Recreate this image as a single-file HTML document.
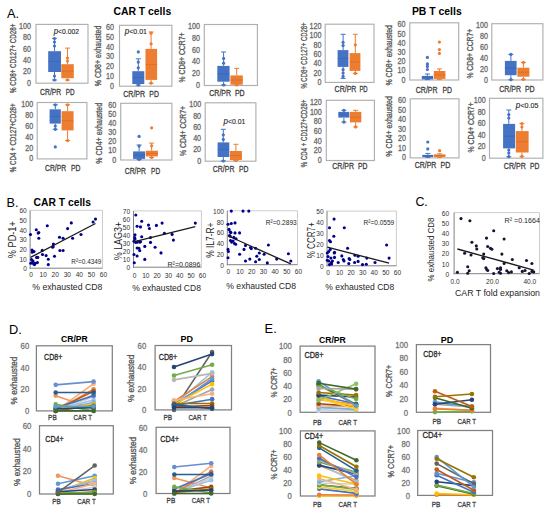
<!DOCTYPE html>
<html><head><meta charset="utf-8"><style>
html,body{margin:0;padding:0;background:#fff;width:550px;height:512px;overflow:hidden;position:relative}
</style></head><body>
<svg width="550" height="512" viewBox="0 0 550 512" style="position:absolute;left:0;top:0">
<g font-family='"Liberation Sans", sans-serif'>
<text x="7.00" y="18.20" font-size="12.8" fill="#000" text-anchor="start" font-weight="500">A.</text>
<text x="113.40" y="14.80" font-size="11.6" fill="#000" text-anchor="start" font-weight="bold" textLength="57.80" lengthAdjust="spacingAndGlyphs">CAR T cells</text>
<text x="411.90" y="14.70" font-size="11.6" fill="#000" text-anchor="start" font-weight="bold" textLength="49.80" lengthAdjust="spacingAndGlyphs">PB T cells</text>
<rect x="36.00" y="24.40" width="52.00" height="58.80" fill="none" stroke="#AFAFAF" stroke-width="1.15"/>
<text x="31.00" y="85.75" font-size="8.3" fill="#6A6A6A" text-anchor="end" stroke="#6A6A6A" stroke-width="0.3" textLength="3.97" lengthAdjust="spacingAndGlyphs">0</text>
<text x="31.00" y="74.41" font-size="8.3" fill="#6A6A6A" text-anchor="end" stroke="#6A6A6A" stroke-width="0.3" textLength="7.94" lengthAdjust="spacingAndGlyphs">20</text>
<text x="31.00" y="63.07" font-size="8.3" fill="#6A6A6A" text-anchor="end" stroke="#6A6A6A" stroke-width="0.3" textLength="7.94" lengthAdjust="spacingAndGlyphs">40</text>
<text x="31.00" y="51.73" font-size="8.3" fill="#6A6A6A" text-anchor="end" stroke="#6A6A6A" stroke-width="0.3" textLength="7.94" lengthAdjust="spacingAndGlyphs">60</text>
<text x="31.00" y="40.39" font-size="8.3" fill="#6A6A6A" text-anchor="end" stroke="#6A6A6A" stroke-width="0.3" textLength="7.94" lengthAdjust="spacingAndGlyphs">80</text>
<text x="31.00" y="29.05" font-size="8.3" fill="#6A6A6A" text-anchor="end" stroke="#6A6A6A" stroke-width="0.3" textLength="11.91" lengthAdjust="spacingAndGlyphs">100</text>
<text x="16.30" y="58.30" font-size="8.4" fill="#555555" text-anchor="middle" stroke="#555555" stroke-width="0.3" textLength="69.30" lengthAdjust="spacingAndGlyphs" transform="rotate(-90 16.30 58.30)">% CD8+ CD127+ CD28+</text>
<text x="40.10" y="94.50" font-size="9" fill="#404040" text-anchor="start" stroke="#404040" stroke-width="0.3" textLength="21.20" lengthAdjust="spacingAndGlyphs">CR/PR</text>
<text x="65.70" y="94.50" font-size="9" fill="#404040" text-anchor="start" stroke="#404040" stroke-width="0.3" textLength="8.80" lengthAdjust="spacingAndGlyphs">PD</text>
<line x1="54.50" y1="38.30" x2="54.50" y2="51.20" stroke="#4472C4" stroke-width="1"/>
<line x1="54.50" y1="72.00" x2="54.50" y2="80.00" stroke="#4472C4" stroke-width="1"/>
<line x1="52.00" y1="38.30" x2="57.00" y2="38.30" stroke="#4472C4" stroke-width="1"/>
<line x1="52.00" y1="80.00" x2="57.00" y2="80.00" stroke="#4472C4" stroke-width="1"/>
<rect x="48.20" y="51.20" width="12.80" height="20.80" fill="#4472C4" stroke="none" stroke-width="1"/>
<line x1="48.20" y1="61.60" x2="61.00" y2="61.60" stroke="#2F5597" stroke-width="0.6" opacity="0.6"/>
<circle cx="54.50" cy="38.50" r="1.6" fill="#4472C4"/>
<circle cx="54.50" cy="42.00" r="1.6" fill="#4472C4"/>
<circle cx="54.50" cy="46.00" r="1.6" fill="#4472C4"/>
<circle cx="54.50" cy="55.00" r="1.6" fill="#4472C4"/>
<circle cx="54.50" cy="60.00" r="1.6" fill="#4472C4"/>
<circle cx="54.50" cy="68.00" r="1.6" fill="#4472C4"/>
<circle cx="54.50" cy="76.00" r="1.6" fill="#4472C4"/>
<circle cx="54.50" cy="80.00" r="1.6" fill="#4472C4"/>
<line x1="67.50" y1="48.10" x2="67.50" y2="64.20" stroke="#ED7D31" stroke-width="1"/>
<line x1="67.50" y1="78.20" x2="67.50" y2="80.00" stroke="#ED7D31" stroke-width="1"/>
<line x1="65.00" y1="48.10" x2="70.00" y2="48.10" stroke="#ED7D31" stroke-width="1"/>
<line x1="65.00" y1="80.00" x2="70.00" y2="80.00" stroke="#ED7D31" stroke-width="1"/>
<rect x="61.30" y="64.20" width="12.50" height="14.00" fill="#ED7D31" stroke="none" stroke-width="1"/>
<line x1="61.30" y1="71.20" x2="73.80" y2="71.20" stroke="#C55A11" stroke-width="0.6" opacity="0.6"/>
<circle cx="67.50" cy="58.00" r="1.6" fill="#ED7D31"/>
<circle cx="67.50" cy="61.00" r="1.6" fill="#ED7D31"/>
<circle cx="67.50" cy="80.00" r="1.6" fill="#ED7D31"/>
<text x="53.70" y="33.80" font-size="7.0" fill="#262626" stroke="#262626" stroke-width="0.12" textLength="25.20" lengthAdjust="spacingAndGlyphs"><tspan font-style="italic" font-size="8.2">p</tspan><0.002</text>
<rect x="119.50" y="25.30" width="52.40" height="60.90" fill="none" stroke="#AFAFAF" stroke-width="1.15"/>
<text x="114.00" y="88.75" font-size="8.3" fill="#6A6A6A" text-anchor="end" stroke="#6A6A6A" stroke-width="0.3" textLength="3.97" lengthAdjust="spacingAndGlyphs">0</text>
<text x="114.00" y="78.95" font-size="8.3" fill="#6A6A6A" text-anchor="end" stroke="#6A6A6A" stroke-width="0.3" textLength="7.94" lengthAdjust="spacingAndGlyphs">10</text>
<text x="114.00" y="69.15" font-size="8.3" fill="#6A6A6A" text-anchor="end" stroke="#6A6A6A" stroke-width="0.3" textLength="7.94" lengthAdjust="spacingAndGlyphs">20</text>
<text x="114.00" y="59.35" font-size="8.3" fill="#6A6A6A" text-anchor="end" stroke="#6A6A6A" stroke-width="0.3" textLength="7.94" lengthAdjust="spacingAndGlyphs">30</text>
<text x="114.00" y="49.55" font-size="8.3" fill="#6A6A6A" text-anchor="end" stroke="#6A6A6A" stroke-width="0.3" textLength="7.94" lengthAdjust="spacingAndGlyphs">40</text>
<text x="114.00" y="39.75" font-size="8.3" fill="#6A6A6A" text-anchor="end" stroke="#6A6A6A" stroke-width="0.3" textLength="7.94" lengthAdjust="spacingAndGlyphs">50</text>
<text x="114.00" y="29.95" font-size="8.3" fill="#6A6A6A" text-anchor="end" stroke="#6A6A6A" stroke-width="0.3" textLength="7.94" lengthAdjust="spacingAndGlyphs">60</text>
<text x="101.20" y="55.90" font-size="8.4" fill="#555555" text-anchor="middle" stroke="#555555" stroke-width="0.3" textLength="60.70" lengthAdjust="spacingAndGlyphs" transform="rotate(-90 101.20 55.90)">% CD8+ exhausted</text>
<text x="123.30" y="96.50" font-size="9" fill="#404040" text-anchor="start" stroke="#404040" stroke-width="0.3" textLength="21.80" lengthAdjust="spacingAndGlyphs">CR/PR</text>
<text x="149.30" y="96.50" font-size="9" fill="#404040" text-anchor="start" stroke="#404040" stroke-width="0.3" textLength="9.60" lengthAdjust="spacingAndGlyphs">PD</text>
<line x1="138.30" y1="58.80" x2="138.30" y2="71.20" stroke="#4472C4" stroke-width="1"/>
<line x1="138.30" y1="84.00" x2="138.30" y2="85.00" stroke="#4472C4" stroke-width="1"/>
<line x1="135.80" y1="58.80" x2="140.80" y2="58.80" stroke="#4472C4" stroke-width="1"/>
<line x1="135.80" y1="85.00" x2="140.80" y2="85.00" stroke="#4472C4" stroke-width="1"/>
<rect x="132.30" y="71.20" width="12.00" height="12.80" fill="#4472C4" stroke="none" stroke-width="1"/>
<line x1="132.30" y1="77.60" x2="144.30" y2="77.60" stroke="#2F5597" stroke-width="0.6" opacity="0.6"/>
<circle cx="138.30" cy="51.90" r="1.6" fill="#4472C4"/>
<circle cx="138.30" cy="62.10" r="1.6" fill="#4472C4"/>
<circle cx="138.30" cy="67.80" r="1.6" fill="#4472C4"/>
<circle cx="138.30" cy="85.00" r="1.6" fill="#4472C4"/>
<line x1="151.10" y1="32.00" x2="151.10" y2="48.90" stroke="#ED7D31" stroke-width="1"/>
<line x1="151.10" y1="79.90" x2="151.10" y2="83.20" stroke="#ED7D31" stroke-width="1"/>
<line x1="148.60" y1="32.00" x2="153.60" y2="32.00" stroke="#ED7D31" stroke-width="1"/>
<line x1="148.60" y1="83.20" x2="153.60" y2="83.20" stroke="#ED7D31" stroke-width="1"/>
<rect x="145.50" y="48.90" width="11.60" height="31.00" fill="#ED7D31" stroke="none" stroke-width="1"/>
<line x1="145.50" y1="64.40" x2="157.10" y2="64.40" stroke="#C55A11" stroke-width="0.6" opacity="0.6"/>
<circle cx="151.10" cy="33.20" r="1.6" fill="#ED7D31"/>
<circle cx="151.10" cy="43.80" r="1.6" fill="#ED7D31"/>
<circle cx="151.10" cy="83.20" r="1.6" fill="#ED7D31"/>
<text x="124.80" y="34.40" font-size="7.0" fill="#262626" stroke="#262626" stroke-width="0.12" textLength="22.10" lengthAdjust="spacingAndGlyphs"><tspan font-style="italic" font-size="8.2">p</tspan><0.01</text>
<rect x="204.30" y="24.50" width="53.10" height="61.00" fill="none" stroke="#AFAFAF" stroke-width="1.15"/>
<text x="200.00" y="88.05" font-size="8.3" fill="#6A6A6A" text-anchor="end" stroke="#6A6A6A" stroke-width="0.3" textLength="3.97" lengthAdjust="spacingAndGlyphs">0</text>
<text x="200.00" y="76.27" font-size="8.3" fill="#6A6A6A" text-anchor="end" stroke="#6A6A6A" stroke-width="0.3" textLength="7.94" lengthAdjust="spacingAndGlyphs">20</text>
<text x="200.00" y="64.49" font-size="8.3" fill="#6A6A6A" text-anchor="end" stroke="#6A6A6A" stroke-width="0.3" textLength="7.94" lengthAdjust="spacingAndGlyphs">40</text>
<text x="200.00" y="52.71" font-size="8.3" fill="#6A6A6A" text-anchor="end" stroke="#6A6A6A" stroke-width="0.3" textLength="7.94" lengthAdjust="spacingAndGlyphs">60</text>
<text x="200.00" y="40.93" font-size="8.3" fill="#6A6A6A" text-anchor="end" stroke="#6A6A6A" stroke-width="0.3" textLength="7.94" lengthAdjust="spacingAndGlyphs">80</text>
<text x="200.00" y="29.15" font-size="8.3" fill="#6A6A6A" text-anchor="end" stroke="#6A6A6A" stroke-width="0.3" textLength="11.91" lengthAdjust="spacingAndGlyphs">100</text>
<text x="185.30" y="57.50" font-size="8.4" fill="#555555" text-anchor="middle" stroke="#555555" stroke-width="0.3" textLength="49.80" lengthAdjust="spacingAndGlyphs" transform="rotate(-90 185.30 57.50)">% CD8+  CCR7+</text>
<text x="209.30" y="95.80" font-size="9" fill="#404040" text-anchor="start" stroke="#404040" stroke-width="0.3" textLength="21.80" lengthAdjust="spacingAndGlyphs">CR/PR</text>
<text x="234.90" y="95.80" font-size="9" fill="#404040" text-anchor="start" stroke="#404040" stroke-width="0.3" textLength="9.80" lengthAdjust="spacingAndGlyphs">PD</text>
<line x1="223.60" y1="52.00" x2="223.60" y2="65.90" stroke="#4472C4" stroke-width="1"/>
<line x1="223.60" y1="81.70" x2="223.60" y2="85.00" stroke="#4472C4" stroke-width="1"/>
<line x1="221.10" y1="52.00" x2="226.10" y2="52.00" stroke="#4472C4" stroke-width="1"/>
<line x1="221.10" y1="85.00" x2="226.10" y2="85.00" stroke="#4472C4" stroke-width="1"/>
<rect x="217.30" y="65.90" width="12.30" height="15.80" fill="#4472C4" stroke="none" stroke-width="1"/>
<line x1="217.30" y1="73.80" x2="229.60" y2="73.80" stroke="#2F5597" stroke-width="0.6" opacity="0.6"/>
<circle cx="223.60" cy="58.40" r="1.6" fill="#4472C4"/>
<circle cx="223.60" cy="63.20" r="1.6" fill="#4472C4"/>
<circle cx="223.60" cy="85.00" r="1.6" fill="#4472C4"/>
<line x1="236.70" y1="68.40" x2="236.70" y2="75.40" stroke="#ED7D31" stroke-width="1"/>
<line x1="236.70" y1="84.70" x2="236.70" y2="85.00" stroke="#ED7D31" stroke-width="1"/>
<line x1="234.20" y1="68.40" x2="239.20" y2="68.40" stroke="#ED7D31" stroke-width="1"/>
<line x1="234.20" y1="85.00" x2="239.20" y2="85.00" stroke="#ED7D31" stroke-width="1"/>
<rect x="230.40" y="75.40" width="12.40" height="9.30" fill="#ED7D31" stroke="none" stroke-width="1"/>
<line x1="230.40" y1="80.05" x2="242.80" y2="80.05" stroke="#C55A11" stroke-width="0.6" opacity="0.6"/>
<circle cx="236.70" cy="85.00" r="1.6" fill="#ED7D31"/>
<rect x="37.20" y="102.50" width="49.70" height="56.40" fill="none" stroke="#AFAFAF" stroke-width="1.15"/>
<text x="33.20" y="161.45" font-size="8.3" fill="#6A6A6A" text-anchor="end" stroke="#6A6A6A" stroke-width="0.3" textLength="3.97" lengthAdjust="spacingAndGlyphs">0</text>
<text x="33.20" y="150.59" font-size="8.3" fill="#6A6A6A" text-anchor="end" stroke="#6A6A6A" stroke-width="0.3" textLength="7.94" lengthAdjust="spacingAndGlyphs">20</text>
<text x="33.20" y="139.73" font-size="8.3" fill="#6A6A6A" text-anchor="end" stroke="#6A6A6A" stroke-width="0.3" textLength="7.94" lengthAdjust="spacingAndGlyphs">40</text>
<text x="33.20" y="128.87" font-size="8.3" fill="#6A6A6A" text-anchor="end" stroke="#6A6A6A" stroke-width="0.3" textLength="7.94" lengthAdjust="spacingAndGlyphs">60</text>
<text x="33.20" y="118.01" font-size="8.3" fill="#6A6A6A" text-anchor="end" stroke="#6A6A6A" stroke-width="0.3" textLength="7.94" lengthAdjust="spacingAndGlyphs">80</text>
<text x="33.20" y="107.15" font-size="8.3" fill="#6A6A6A" text-anchor="end" stroke="#6A6A6A" stroke-width="0.3" textLength="11.91" lengthAdjust="spacingAndGlyphs">100</text>
<text x="16.00" y="137.80" font-size="8.4" fill="#555555" text-anchor="middle" stroke="#555555" stroke-width="0.3" textLength="68.90" lengthAdjust="spacingAndGlyphs" transform="rotate(-90 16.00 137.80)">% CD4 + CD127+CD28+</text>
<text x="45.00" y="170.80" font-size="9" fill="#404040" text-anchor="start" stroke="#404040" stroke-width="0.3" textLength="21.10" lengthAdjust="spacingAndGlyphs">CR/PR</text>
<text x="70.90" y="170.80" font-size="9" fill="#404040" text-anchor="start" stroke="#404040" stroke-width="0.3" textLength="9.50" lengthAdjust="spacingAndGlyphs">PD</text>
<line x1="55.30" y1="104.80" x2="55.30" y2="109.30" stroke="#4472C4" stroke-width="1"/>
<line x1="55.30" y1="123.60" x2="55.30" y2="129.30" stroke="#4472C4" stroke-width="1"/>
<line x1="52.80" y1="104.80" x2="57.80" y2="104.80" stroke="#4472C4" stroke-width="1"/>
<line x1="52.80" y1="129.30" x2="57.80" y2="129.30" stroke="#4472C4" stroke-width="1"/>
<rect x="49.60" y="109.30" width="11.20" height="14.30" fill="#4472C4" stroke="none" stroke-width="1"/>
<line x1="49.60" y1="116.45" x2="60.80" y2="116.45" stroke="#2F5597" stroke-width="0.6" opacity="0.6"/>
<circle cx="55.30" cy="104.80" r="1.6" fill="#4472C4"/>
<circle cx="55.30" cy="126.00" r="1.6" fill="#4472C4"/>
<circle cx="55.30" cy="129.30" r="1.6" fill="#4472C4"/>
<circle cx="55.30" cy="146.90" r="1.6" fill="#4472C4"/>
<line x1="67.60" y1="104.80" x2="67.60" y2="111.20" stroke="#ED7D31" stroke-width="1"/>
<line x1="67.60" y1="130.40" x2="67.60" y2="140.60" stroke="#ED7D31" stroke-width="1"/>
<line x1="65.10" y1="104.80" x2="70.10" y2="104.80" stroke="#ED7D31" stroke-width="1"/>
<line x1="65.10" y1="140.60" x2="70.10" y2="140.60" stroke="#ED7D31" stroke-width="1"/>
<rect x="61.60" y="111.20" width="12.00" height="19.20" fill="#ED7D31" stroke="none" stroke-width="1"/>
<line x1="61.60" y1="120.80" x2="73.60" y2="120.80" stroke="#C55A11" stroke-width="0.6" opacity="0.6"/>
<circle cx="67.60" cy="104.80" r="1.6" fill="#ED7D31"/>
<circle cx="67.60" cy="140.60" r="1.6" fill="#ED7D31"/>
<rect x="120.70" y="103.30" width="51.20" height="56.70" fill="none" stroke="#AFAFAF" stroke-width="1.15"/>
<text x="116.30" y="162.55" font-size="8.3" fill="#6A6A6A" text-anchor="end" stroke="#6A6A6A" stroke-width="0.3" textLength="3.97" lengthAdjust="spacingAndGlyphs">0</text>
<text x="116.30" y="153.45" font-size="8.3" fill="#6A6A6A" text-anchor="end" stroke="#6A6A6A" stroke-width="0.3" textLength="7.94" lengthAdjust="spacingAndGlyphs">10</text>
<text x="116.30" y="144.35" font-size="8.3" fill="#6A6A6A" text-anchor="end" stroke="#6A6A6A" stroke-width="0.3" textLength="7.94" lengthAdjust="spacingAndGlyphs">20</text>
<text x="116.30" y="135.25" font-size="8.3" fill="#6A6A6A" text-anchor="end" stroke="#6A6A6A" stroke-width="0.3" textLength="7.94" lengthAdjust="spacingAndGlyphs">30</text>
<text x="116.30" y="126.15" font-size="8.3" fill="#6A6A6A" text-anchor="end" stroke="#6A6A6A" stroke-width="0.3" textLength="7.94" lengthAdjust="spacingAndGlyphs">40</text>
<text x="116.30" y="117.05" font-size="8.3" fill="#6A6A6A" text-anchor="end" stroke="#6A6A6A" stroke-width="0.3" textLength="7.94" lengthAdjust="spacingAndGlyphs">50</text>
<text x="116.30" y="107.95" font-size="8.3" fill="#6A6A6A" text-anchor="end" stroke="#6A6A6A" stroke-width="0.3" textLength="7.94" lengthAdjust="spacingAndGlyphs">60</text>
<text x="101.80" y="133.30" font-size="8.4" fill="#555555" text-anchor="middle" stroke="#555555" stroke-width="0.3" textLength="60.80" lengthAdjust="spacingAndGlyphs" transform="rotate(-90 101.80 133.30)">% CD4+ exhausted</text>
<text x="124.80" y="173.80" font-size="9" fill="#404040" text-anchor="start" stroke="#404040" stroke-width="0.3" textLength="21.00" lengthAdjust="spacingAndGlyphs">CR/PR</text>
<text x="151.10" y="173.80" font-size="9" fill="#404040" text-anchor="start" stroke="#404040" stroke-width="0.3" textLength="9.00" lengthAdjust="spacingAndGlyphs">PD</text>
<line x1="139.10" y1="145.00" x2="139.10" y2="151.40" stroke="#4472C4" stroke-width="1"/>
<line x1="139.10" y1="158.90" x2="139.10" y2="159.50" stroke="#4472C4" stroke-width="1"/>
<line x1="136.60" y1="145.00" x2="141.60" y2="145.00" stroke="#4472C4" stroke-width="1"/>
<line x1="136.60" y1="159.50" x2="141.60" y2="159.50" stroke="#4472C4" stroke-width="1"/>
<rect x="133.10" y="151.40" width="12.00" height="7.50" fill="#4472C4" stroke="none" stroke-width="1"/>
<line x1="133.10" y1="155.15" x2="145.10" y2="155.15" stroke="#2F5597" stroke-width="0.6" opacity="0.6"/>
<circle cx="139.10" cy="136.40" r="1.6" fill="#4472C4"/>
<circle cx="139.10" cy="146.10" r="1.6" fill="#4472C4"/>
<circle cx="139.10" cy="159.50" r="1.6" fill="#4472C4"/>
<line x1="151.60" y1="143.10" x2="151.60" y2="150.70" stroke="#ED7D31" stroke-width="1"/>
<line x1="151.60" y1="156.40" x2="151.60" y2="157.50" stroke="#ED7D31" stroke-width="1"/>
<line x1="149.10" y1="143.10" x2="154.10" y2="143.10" stroke="#ED7D31" stroke-width="1"/>
<line x1="149.10" y1="157.50" x2="154.10" y2="157.50" stroke="#ED7D31" stroke-width="1"/>
<rect x="145.80" y="150.70" width="12.10" height="5.70" fill="#ED7D31" stroke="none" stroke-width="1"/>
<line x1="145.80" y1="153.55" x2="157.90" y2="153.55" stroke="#C55A11" stroke-width="0.6" opacity="0.6"/>
<circle cx="151.60" cy="127.80" r="1.6" fill="#ED7D31"/>
<circle cx="151.60" cy="145.80" r="1.6" fill="#ED7D31"/>
<circle cx="151.60" cy="157.50" r="1.6" fill="#ED7D31"/>
<rect x="205.20" y="102.80" width="50.70" height="58.40" fill="none" stroke="#AFAFAF" stroke-width="1.15"/>
<text x="201.10" y="163.75" font-size="8.3" fill="#6A6A6A" text-anchor="end" stroke="#6A6A6A" stroke-width="0.3" textLength="3.97" lengthAdjust="spacingAndGlyphs">0</text>
<text x="201.10" y="152.49" font-size="8.3" fill="#6A6A6A" text-anchor="end" stroke="#6A6A6A" stroke-width="0.3" textLength="7.94" lengthAdjust="spacingAndGlyphs">20</text>
<text x="201.10" y="141.23" font-size="8.3" fill="#6A6A6A" text-anchor="end" stroke="#6A6A6A" stroke-width="0.3" textLength="7.94" lengthAdjust="spacingAndGlyphs">40</text>
<text x="201.10" y="129.97" font-size="8.3" fill="#6A6A6A" text-anchor="end" stroke="#6A6A6A" stroke-width="0.3" textLength="7.94" lengthAdjust="spacingAndGlyphs">60</text>
<text x="201.10" y="118.71" font-size="8.3" fill="#6A6A6A" text-anchor="end" stroke="#6A6A6A" stroke-width="0.3" textLength="7.94" lengthAdjust="spacingAndGlyphs">80</text>
<text x="201.10" y="107.45" font-size="8.3" fill="#6A6A6A" text-anchor="end" stroke="#6A6A6A" stroke-width="0.3" textLength="11.91" lengthAdjust="spacingAndGlyphs">100</text>
<text x="186.00" y="131.00" font-size="8.4" fill="#555555" text-anchor="middle" stroke="#555555" stroke-width="0.3" textLength="49.90" lengthAdjust="spacingAndGlyphs" transform="rotate(-90 186.00 131.00)">% CD4+  CCR7+</text>
<text x="212.80" y="172.30" font-size="9" fill="#404040" text-anchor="start" stroke="#404040" stroke-width="0.3" textLength="21.60" lengthAdjust="spacingAndGlyphs">CR/PR</text>
<text x="238.90" y="172.30" font-size="9" fill="#404040" text-anchor="start" stroke="#404040" stroke-width="0.3" textLength="9.50" lengthAdjust="spacingAndGlyphs">PD</text>
<line x1="223.30" y1="129.30" x2="223.30" y2="142.40" stroke="#4472C4" stroke-width="1"/>
<line x1="223.30" y1="157.00" x2="223.30" y2="161.00" stroke="#4472C4" stroke-width="1"/>
<line x1="220.80" y1="129.30" x2="225.80" y2="129.30" stroke="#4472C4" stroke-width="1"/>
<line x1="220.80" y1="161.00" x2="225.80" y2="161.00" stroke="#4472C4" stroke-width="1"/>
<rect x="217.60" y="142.40" width="11.70" height="14.60" fill="#4472C4" stroke="none" stroke-width="1"/>
<line x1="217.60" y1="149.70" x2="229.30" y2="149.70" stroke="#2F5597" stroke-width="0.6" opacity="0.6"/>
<circle cx="223.30" cy="134.90" r="1.6" fill="#4472C4"/>
<circle cx="223.30" cy="139.40" r="1.6" fill="#4472C4"/>
<circle cx="223.30" cy="161.00" r="1.6" fill="#4472C4"/>
<line x1="235.90" y1="144.30" x2="235.90" y2="151.00" stroke="#ED7D31" stroke-width="1"/>
<line x1="235.90" y1="160.00" x2="235.90" y2="160.50" stroke="#ED7D31" stroke-width="1"/>
<line x1="233.40" y1="144.30" x2="238.40" y2="144.30" stroke="#ED7D31" stroke-width="1"/>
<line x1="233.40" y1="160.50" x2="238.40" y2="160.50" stroke="#ED7D31" stroke-width="1"/>
<rect x="229.90" y="151.00" width="12.00" height="9.00" fill="#ED7D31" stroke="none" stroke-width="1"/>
<line x1="229.90" y1="155.50" x2="241.90" y2="155.50" stroke="#C55A11" stroke-width="0.6" opacity="0.6"/>
<circle cx="235.90" cy="160.50" r="1.6" fill="#ED7D31"/>
<text x="223.60" y="124.20" font-size="7.0" fill="#262626" stroke="#262626" stroke-width="0.12" textLength="21.80" lengthAdjust="spacingAndGlyphs"><tspan font-style="italic" font-size="8.2">p</tspan><0.01</text>
<rect x="325.20" y="24.20" width="48.80" height="58.20" fill="none" stroke="#AFAFAF" stroke-width="1.15"/>
<text x="321.50" y="84.95" font-size="8.3" fill="#6A6A6A" text-anchor="end" stroke="#6A6A6A" stroke-width="0.3" textLength="3.97" lengthAdjust="spacingAndGlyphs">0</text>
<text x="321.50" y="75.60" font-size="8.3" fill="#6A6A6A" text-anchor="end" stroke="#6A6A6A" stroke-width="0.3" textLength="7.94" lengthAdjust="spacingAndGlyphs">20</text>
<text x="321.50" y="66.25" font-size="8.3" fill="#6A6A6A" text-anchor="end" stroke="#6A6A6A" stroke-width="0.3" textLength="7.94" lengthAdjust="spacingAndGlyphs">40</text>
<text x="321.50" y="56.90" font-size="8.3" fill="#6A6A6A" text-anchor="end" stroke="#6A6A6A" stroke-width="0.3" textLength="7.94" lengthAdjust="spacingAndGlyphs">60</text>
<text x="321.50" y="47.55" font-size="8.3" fill="#6A6A6A" text-anchor="end" stroke="#6A6A6A" stroke-width="0.3" textLength="7.94" lengthAdjust="spacingAndGlyphs">80</text>
<text x="321.50" y="38.20" font-size="8.3" fill="#6A6A6A" text-anchor="end" stroke="#6A6A6A" stroke-width="0.3" textLength="11.91" lengthAdjust="spacingAndGlyphs">100</text>
<text x="321.50" y="28.85" font-size="8.3" fill="#6A6A6A" text-anchor="end" stroke="#6A6A6A" stroke-width="0.3" textLength="11.91" lengthAdjust="spacingAndGlyphs">120</text>
<text x="306.90" y="55.50" font-size="8.4" fill="#555555" text-anchor="middle" stroke="#555555" stroke-width="0.3" textLength="66.10" lengthAdjust="spacingAndGlyphs" transform="rotate(-90 306.90 55.50)">% CD8+ CD127+ CD28+</text>
<text x="334.60" y="92.30" font-size="9" fill="#404040" text-anchor="start" stroke="#404040" stroke-width="0.3" textLength="21.80" lengthAdjust="spacingAndGlyphs">CR/PR</text>
<text x="359.40" y="92.30" font-size="9" fill="#404040" text-anchor="start" stroke="#404040" stroke-width="0.3" textLength="8.30" lengthAdjust="spacingAndGlyphs">PD</text>
<line x1="343.10" y1="34.30" x2="343.10" y2="50.10" stroke="#4472C4" stroke-width="1"/>
<line x1="343.10" y1="66.90" x2="343.10" y2="78.40" stroke="#4472C4" stroke-width="1"/>
<line x1="340.60" y1="34.30" x2="345.60" y2="34.30" stroke="#4472C4" stroke-width="1"/>
<line x1="340.60" y1="78.40" x2="345.60" y2="78.40" stroke="#4472C4" stroke-width="1"/>
<rect x="337.60" y="50.10" width="10.80" height="16.80" fill="#4472C4" stroke="none" stroke-width="1"/>
<line x1="337.60" y1="58.50" x2="348.40" y2="58.50" stroke="#2F5597" stroke-width="0.6" opacity="0.6"/>
<circle cx="343.10" cy="42.30" r="1.6" fill="#4472C4"/>
<circle cx="343.10" cy="45.60" r="1.6" fill="#4472C4"/>
<circle cx="343.10" cy="69.70" r="1.6" fill="#4472C4"/>
<circle cx="343.10" cy="73.00" r="1.6" fill="#4472C4"/>
<circle cx="343.10" cy="76.40" r="1.6" fill="#4472C4"/>
<line x1="355.30" y1="34.30" x2="355.30" y2="53.10" stroke="#ED7D31" stroke-width="1"/>
<line x1="355.30" y1="70.90" x2="355.30" y2="73.40" stroke="#ED7D31" stroke-width="1"/>
<line x1="352.80" y1="34.30" x2="357.80" y2="34.30" stroke="#ED7D31" stroke-width="1"/>
<line x1="352.80" y1="73.40" x2="357.80" y2="73.40" stroke="#ED7D31" stroke-width="1"/>
<rect x="349.60" y="53.10" width="10.80" height="17.80" fill="#ED7D31" stroke="none" stroke-width="1"/>
<line x1="349.60" y1="62.00" x2="360.40" y2="62.00" stroke="#C55A11" stroke-width="0.6" opacity="0.6"/>
<circle cx="355.30" cy="44.80" r="1.6" fill="#ED7D31"/>
<circle cx="355.30" cy="73.40" r="1.6" fill="#ED7D31"/>
<rect x="409.80" y="22.80" width="48.90" height="57.20" fill="none" stroke="#AFAFAF" stroke-width="1.15"/>
<text x="405.50" y="82.55" font-size="8.3" fill="#6A6A6A" text-anchor="end" stroke="#6A6A6A" stroke-width="0.3" textLength="3.97" lengthAdjust="spacingAndGlyphs">0</text>
<text x="405.50" y="73.37" font-size="8.3" fill="#6A6A6A" text-anchor="end" stroke="#6A6A6A" stroke-width="0.3" textLength="7.94" lengthAdjust="spacingAndGlyphs">10</text>
<text x="405.50" y="64.18" font-size="8.3" fill="#6A6A6A" text-anchor="end" stroke="#6A6A6A" stroke-width="0.3" textLength="7.94" lengthAdjust="spacingAndGlyphs">20</text>
<text x="405.50" y="55.00" font-size="8.3" fill="#6A6A6A" text-anchor="end" stroke="#6A6A6A" stroke-width="0.3" textLength="7.94" lengthAdjust="spacingAndGlyphs">30</text>
<text x="405.50" y="45.82" font-size="8.3" fill="#6A6A6A" text-anchor="end" stroke="#6A6A6A" stroke-width="0.3" textLength="7.94" lengthAdjust="spacingAndGlyphs">40</text>
<text x="405.50" y="36.63" font-size="8.3" fill="#6A6A6A" text-anchor="end" stroke="#6A6A6A" stroke-width="0.3" textLength="7.94" lengthAdjust="spacingAndGlyphs">50</text>
<text x="405.50" y="27.45" font-size="8.3" fill="#6A6A6A" text-anchor="end" stroke="#6A6A6A" stroke-width="0.3" textLength="7.94" lengthAdjust="spacingAndGlyphs">60</text>
<text x="391.90" y="55.30" font-size="8.4" fill="#555555" text-anchor="middle" stroke="#555555" stroke-width="0.3" textLength="60.60" lengthAdjust="spacingAndGlyphs" transform="rotate(-90 391.90 55.30)">% CD8+ exhausted</text>
<text x="415.80" y="92.80" font-size="9" fill="#404040" text-anchor="start" stroke="#404040" stroke-width="0.3" textLength="21.80" lengthAdjust="spacingAndGlyphs">CR/PR</text>
<text x="442.40" y="92.80" font-size="9" fill="#404040" text-anchor="start" stroke="#404040" stroke-width="0.3" textLength="9.50" lengthAdjust="spacingAndGlyphs">PD</text>
<line x1="427.40" y1="74.00" x2="427.40" y2="75.90" stroke="#4472C4" stroke-width="1"/>
<line x1="427.40" y1="79.40" x2="427.40" y2="79.60" stroke="#4472C4" stroke-width="1"/>
<line x1="424.90" y1="74.00" x2="429.90" y2="74.00" stroke="#4472C4" stroke-width="1"/>
<line x1="424.90" y1="79.60" x2="429.90" y2="79.60" stroke="#4472C4" stroke-width="1"/>
<rect x="421.80" y="75.90" width="11.30" height="3.50" fill="#4472C4" stroke="none" stroke-width="1"/>
<line x1="421.80" y1="77.65" x2="433.10" y2="77.65" stroke="#2F5597" stroke-width="0.6" opacity="0.6"/>
<circle cx="427.40" cy="57.40" r="1.6" fill="#4472C4"/>
<circle cx="427.40" cy="63.90" r="1.6" fill="#4472C4"/>
<circle cx="427.40" cy="66.40" r="1.6" fill="#4472C4"/>
<circle cx="427.40" cy="69.50" r="1.6" fill="#4472C4"/>
<line x1="439.40" y1="68.90" x2="439.40" y2="71.00" stroke="#ED7D31" stroke-width="1"/>
<line x1="439.40" y1="78.90" x2="439.40" y2="79.60" stroke="#ED7D31" stroke-width="1"/>
<line x1="436.90" y1="68.90" x2="441.90" y2="68.90" stroke="#ED7D31" stroke-width="1"/>
<line x1="436.90" y1="79.60" x2="441.90" y2="79.60" stroke="#ED7D31" stroke-width="1"/>
<rect x="433.80" y="71.00" width="11.60" height="7.90" fill="#ED7D31" stroke="none" stroke-width="1"/>
<line x1="433.80" y1="74.95" x2="445.40" y2="74.95" stroke="#C55A11" stroke-width="0.6" opacity="0.6"/>
<circle cx="439.40" cy="42.10" r="1.6" fill="#ED7D31"/>
<circle cx="439.40" cy="49.60" r="1.6" fill="#ED7D31"/>
<circle cx="439.40" cy="53.40" r="1.6" fill="#ED7D31"/>
<rect x="491.80" y="23.70" width="51.10" height="56.30" fill="none" stroke="#AFAFAF" stroke-width="1.15"/>
<text x="488.00" y="82.55" font-size="8.3" fill="#6A6A6A" text-anchor="end" stroke="#6A6A6A" stroke-width="0.3" textLength="3.97" lengthAdjust="spacingAndGlyphs">0</text>
<text x="488.00" y="71.71" font-size="8.3" fill="#6A6A6A" text-anchor="end" stroke="#6A6A6A" stroke-width="0.3" textLength="7.94" lengthAdjust="spacingAndGlyphs">20</text>
<text x="488.00" y="60.87" font-size="8.3" fill="#6A6A6A" text-anchor="end" stroke="#6A6A6A" stroke-width="0.3" textLength="7.94" lengthAdjust="spacingAndGlyphs">40</text>
<text x="488.00" y="50.03" font-size="8.3" fill="#6A6A6A" text-anchor="end" stroke="#6A6A6A" stroke-width="0.3" textLength="7.94" lengthAdjust="spacingAndGlyphs">60</text>
<text x="488.00" y="39.19" font-size="8.3" fill="#6A6A6A" text-anchor="end" stroke="#6A6A6A" stroke-width="0.3" textLength="7.94" lengthAdjust="spacingAndGlyphs">80</text>
<text x="488.00" y="28.35" font-size="8.3" fill="#6A6A6A" text-anchor="end" stroke="#6A6A6A" stroke-width="0.3" textLength="11.91" lengthAdjust="spacingAndGlyphs">100</text>
<text x="473.10" y="53.70" font-size="8.4" fill="#555555" text-anchor="middle" stroke="#555555" stroke-width="0.3" textLength="49.70" lengthAdjust="spacingAndGlyphs" transform="rotate(-90 473.10 53.70)">% CD8+  CCR7+</text>
<text x="499.30" y="91.80" font-size="9" fill="#404040" text-anchor="start" stroke="#404040" stroke-width="0.3" textLength="21.80" lengthAdjust="spacingAndGlyphs">CR/PR</text>
<text x="524.90" y="91.80" font-size="9" fill="#404040" text-anchor="start" stroke="#404040" stroke-width="0.3" textLength="9.80" lengthAdjust="spacingAndGlyphs">PD</text>
<line x1="510.90" y1="54.40" x2="510.90" y2="60.90" stroke="#4472C4" stroke-width="1"/>
<line x1="510.90" y1="75.20" x2="510.90" y2="79.70" stroke="#4472C4" stroke-width="1"/>
<line x1="508.40" y1="54.40" x2="513.40" y2="54.40" stroke="#4472C4" stroke-width="1"/>
<line x1="508.40" y1="79.70" x2="513.40" y2="79.70" stroke="#4472C4" stroke-width="1"/>
<rect x="504.90" y="60.90" width="11.70" height="14.30" fill="#4472C4" stroke="none" stroke-width="1"/>
<line x1="504.90" y1="68.05" x2="516.60" y2="68.05" stroke="#2F5597" stroke-width="0.6" opacity="0.6"/>
<circle cx="510.90" cy="54.40" r="1.6" fill="#4472C4"/>
<circle cx="510.90" cy="79.70" r="1.6" fill="#4472C4"/>
<line x1="523.40" y1="62.40" x2="523.40" y2="67.70" stroke="#ED7D31" stroke-width="1"/>
<line x1="523.40" y1="76.70" x2="523.40" y2="79.40" stroke="#ED7D31" stroke-width="1"/>
<line x1="520.90" y1="62.40" x2="525.90" y2="62.40" stroke="#ED7D31" stroke-width="1"/>
<line x1="520.90" y1="79.40" x2="525.90" y2="79.40" stroke="#ED7D31" stroke-width="1"/>
<rect x="517.40" y="67.70" width="12.00" height="9.00" fill="#ED7D31" stroke="none" stroke-width="1"/>
<line x1="517.40" y1="72.20" x2="529.40" y2="72.20" stroke="#C55A11" stroke-width="0.6" opacity="0.6"/>
<circle cx="523.40" cy="62.40" r="1.6" fill="#ED7D31"/>
<circle cx="523.40" cy="79.40" r="1.6" fill="#ED7D31"/>
<rect x="326.30" y="100.30" width="48.10" height="60.20" fill="none" stroke="#AFAFAF" stroke-width="1.15"/>
<text x="321.80" y="163.05" font-size="8.3" fill="#6A6A6A" text-anchor="end" stroke="#6A6A6A" stroke-width="0.3" textLength="3.97" lengthAdjust="spacingAndGlyphs">0</text>
<text x="321.80" y="153.37" font-size="8.3" fill="#6A6A6A" text-anchor="end" stroke="#6A6A6A" stroke-width="0.3" textLength="7.94" lengthAdjust="spacingAndGlyphs">20</text>
<text x="321.80" y="143.68" font-size="8.3" fill="#6A6A6A" text-anchor="end" stroke="#6A6A6A" stroke-width="0.3" textLength="7.94" lengthAdjust="spacingAndGlyphs">40</text>
<text x="321.80" y="134.00" font-size="8.3" fill="#6A6A6A" text-anchor="end" stroke="#6A6A6A" stroke-width="0.3" textLength="7.94" lengthAdjust="spacingAndGlyphs">60</text>
<text x="321.80" y="124.32" font-size="8.3" fill="#6A6A6A" text-anchor="end" stroke="#6A6A6A" stroke-width="0.3" textLength="7.94" lengthAdjust="spacingAndGlyphs">80</text>
<text x="321.80" y="114.63" font-size="8.3" fill="#6A6A6A" text-anchor="end" stroke="#6A6A6A" stroke-width="0.3" textLength="11.91" lengthAdjust="spacingAndGlyphs">100</text>
<text x="321.80" y="104.95" font-size="8.3" fill="#6A6A6A" text-anchor="end" stroke="#6A6A6A" stroke-width="0.3" textLength="11.91" lengthAdjust="spacingAndGlyphs">120</text>
<text x="307.10" y="133.30" font-size="8.4" fill="#555555" text-anchor="middle" stroke="#555555" stroke-width="0.3" textLength="67.70" lengthAdjust="spacingAndGlyphs" transform="rotate(-90 307.10 133.30)">% CD4 + CD127+CD28+</text>
<text x="332.30" y="168.80" font-size="9" fill="#404040" text-anchor="start" stroke="#404040" stroke-width="0.3" textLength="21.80" lengthAdjust="spacingAndGlyphs">CR/PR</text>
<text x="357.90" y="168.80" font-size="9" fill="#404040" text-anchor="start" stroke="#404040" stroke-width="0.3" textLength="9.50" lengthAdjust="spacingAndGlyphs">PD</text>
<line x1="343.90" y1="110.30" x2="343.90" y2="111.90" stroke="#4472C4" stroke-width="1"/>
<line x1="343.90" y1="117.60" x2="343.90" y2="122.10" stroke="#4472C4" stroke-width="1"/>
<line x1="341.40" y1="110.30" x2="346.40" y2="110.30" stroke="#4472C4" stroke-width="1"/>
<line x1="341.40" y1="122.10" x2="346.40" y2="122.10" stroke="#4472C4" stroke-width="1"/>
<rect x="338.30" y="111.90" width="11.00" height="5.70" fill="#4472C4" stroke="none" stroke-width="1"/>
<line x1="338.30" y1="114.75" x2="349.30" y2="114.75" stroke="#2F5597" stroke-width="0.6" opacity="0.6"/>
<circle cx="343.90" cy="110.30" r="1.6" fill="#4472C4"/>
<circle cx="343.90" cy="122.10" r="1.6" fill="#4472C4"/>
<line x1="355.60" y1="110.30" x2="355.60" y2="111.90" stroke="#ED7D31" stroke-width="1"/>
<line x1="355.60" y1="122.40" x2="355.60" y2="126.90" stroke="#ED7D31" stroke-width="1"/>
<line x1="353.10" y1="110.30" x2="358.10" y2="110.30" stroke="#ED7D31" stroke-width="1"/>
<line x1="353.10" y1="126.90" x2="358.10" y2="126.90" stroke="#ED7D31" stroke-width="1"/>
<rect x="349.90" y="111.90" width="11.40" height="10.50" fill="#ED7D31" stroke="none" stroke-width="1"/>
<line x1="349.90" y1="117.15" x2="361.30" y2="117.15" stroke="#C55A11" stroke-width="0.6" opacity="0.6"/>
<circle cx="355.60" cy="126.90" r="1.6" fill="#ED7D31"/>
<rect x="410.20" y="98.80" width="48.80" height="59.10" fill="none" stroke="#AFAFAF" stroke-width="1.15"/>
<text x="406.00" y="160.45" font-size="8.3" fill="#6A6A6A" text-anchor="end" stroke="#6A6A6A" stroke-width="0.3" textLength="3.97" lengthAdjust="spacingAndGlyphs">0</text>
<text x="406.00" y="150.95" font-size="8.3" fill="#6A6A6A" text-anchor="end" stroke="#6A6A6A" stroke-width="0.3" textLength="7.94" lengthAdjust="spacingAndGlyphs">10</text>
<text x="406.00" y="141.45" font-size="8.3" fill="#6A6A6A" text-anchor="end" stroke="#6A6A6A" stroke-width="0.3" textLength="7.94" lengthAdjust="spacingAndGlyphs">20</text>
<text x="406.00" y="131.95" font-size="8.3" fill="#6A6A6A" text-anchor="end" stroke="#6A6A6A" stroke-width="0.3" textLength="7.94" lengthAdjust="spacingAndGlyphs">30</text>
<text x="406.00" y="122.45" font-size="8.3" fill="#6A6A6A" text-anchor="end" stroke="#6A6A6A" stroke-width="0.3" textLength="7.94" lengthAdjust="spacingAndGlyphs">40</text>
<text x="406.00" y="112.95" font-size="8.3" fill="#6A6A6A" text-anchor="end" stroke="#6A6A6A" stroke-width="0.3" textLength="7.94" lengthAdjust="spacingAndGlyphs">50</text>
<text x="406.00" y="103.45" font-size="8.3" fill="#6A6A6A" text-anchor="end" stroke="#6A6A6A" stroke-width="0.3" textLength="7.94" lengthAdjust="spacingAndGlyphs">60</text>
<text x="391.90" y="126.40" font-size="8.4" fill="#555555" text-anchor="middle" stroke="#555555" stroke-width="0.3" textLength="60.50" lengthAdjust="spacingAndGlyphs" transform="rotate(-90 391.90 126.40)">% CD4+ exhausted</text>
<text x="414.70" y="167.80" font-size="9" fill="#404040" text-anchor="start" stroke="#404040" stroke-width="0.3" textLength="21.70" lengthAdjust="spacingAndGlyphs">CR/PR</text>
<text x="440.60" y="167.80" font-size="9" fill="#404040" text-anchor="start" stroke="#404040" stroke-width="0.3" textLength="9.80" lengthAdjust="spacingAndGlyphs">PD</text>
<line x1="427.80" y1="153.40" x2="427.80" y2="154.90" stroke="#4472C4" stroke-width="1"/>
<line x1="427.80" y1="157.00" x2="427.80" y2="157.40" stroke="#4472C4" stroke-width="1"/>
<line x1="425.30" y1="153.40" x2="430.30" y2="153.40" stroke="#4472C4" stroke-width="1"/>
<line x1="425.30" y1="157.40" x2="430.30" y2="157.40" stroke="#4472C4" stroke-width="1"/>
<rect x="422.30" y="154.90" width="10.80" height="2.10" fill="#4472C4" stroke="none" stroke-width="1"/>
<line x1="422.30" y1="155.95" x2="433.10" y2="155.95" stroke="#2F5597" stroke-width="0.6" opacity="0.6"/>
<circle cx="427.80" cy="142.00" r="1.6" fill="#4472C4"/>
<circle cx="427.80" cy="148.90" r="1.6" fill="#4472C4"/>
<line x1="439.60" y1="153.80" x2="439.60" y2="154.40" stroke="#ED7D31" stroke-width="1"/>
<line x1="439.60" y1="157.00" x2="439.60" y2="157.40" stroke="#ED7D31" stroke-width="1"/>
<line x1="437.10" y1="153.80" x2="442.10" y2="153.80" stroke="#ED7D31" stroke-width="1"/>
<line x1="437.10" y1="157.40" x2="442.10" y2="157.40" stroke="#ED7D31" stroke-width="1"/>
<rect x="433.80" y="154.40" width="11.60" height="2.60" fill="#ED7D31" stroke="none" stroke-width="1"/>
<line x1="433.80" y1="155.70" x2="445.40" y2="155.70" stroke="#C55A11" stroke-width="0.6" opacity="0.6"/>
<circle cx="439.60" cy="150.70" r="1.6" fill="#ED7D31"/>
<rect x="489.50" y="98.30" width="53.40" height="59.90" fill="none" stroke="#AFAFAF" stroke-width="1.15"/>
<text x="485.60" y="160.75" font-size="8.3" fill="#6A6A6A" text-anchor="end" stroke="#6A6A6A" stroke-width="0.3" textLength="3.97" lengthAdjust="spacingAndGlyphs">0</text>
<text x="485.60" y="149.19" font-size="8.3" fill="#6A6A6A" text-anchor="end" stroke="#6A6A6A" stroke-width="0.3" textLength="7.94" lengthAdjust="spacingAndGlyphs">20</text>
<text x="485.60" y="137.63" font-size="8.3" fill="#6A6A6A" text-anchor="end" stroke="#6A6A6A" stroke-width="0.3" textLength="7.94" lengthAdjust="spacingAndGlyphs">40</text>
<text x="485.60" y="126.07" font-size="8.3" fill="#6A6A6A" text-anchor="end" stroke="#6A6A6A" stroke-width="0.3" textLength="7.94" lengthAdjust="spacingAndGlyphs">60</text>
<text x="485.60" y="114.51" font-size="8.3" fill="#6A6A6A" text-anchor="end" stroke="#6A6A6A" stroke-width="0.3" textLength="7.94" lengthAdjust="spacingAndGlyphs">80</text>
<text x="485.60" y="102.95" font-size="8.3" fill="#6A6A6A" text-anchor="end" stroke="#6A6A6A" stroke-width="0.3" textLength="11.91" lengthAdjust="spacingAndGlyphs">100</text>
<text x="473.70" y="127.40" font-size="8.4" fill="#555555" text-anchor="middle" stroke="#555555" stroke-width="0.3" textLength="50.10" lengthAdjust="spacingAndGlyphs" transform="rotate(-90 473.70 127.40)">% CD4+  CCR7+</text>
<text x="503.80" y="168.50" font-size="9" fill="#404040" text-anchor="start" stroke="#404040" stroke-width="0.3" textLength="22.10" lengthAdjust="spacingAndGlyphs">CR/PR</text>
<text x="530.10" y="168.50" font-size="9" fill="#404040" text-anchor="start" stroke="#404040" stroke-width="0.3" textLength="9.40" lengthAdjust="spacingAndGlyphs">PD</text>
<line x1="508.80" y1="110.00" x2="508.80" y2="123.90" stroke="#4472C4" stroke-width="1"/>
<line x1="508.80" y1="148.40" x2="508.80" y2="156.70" stroke="#4472C4" stroke-width="1"/>
<line x1="506.30" y1="110.00" x2="511.30" y2="110.00" stroke="#4472C4" stroke-width="1"/>
<line x1="506.30" y1="156.70" x2="511.30" y2="156.70" stroke="#4472C4" stroke-width="1"/>
<rect x="503.10" y="123.90" width="12.00" height="24.50" fill="#4472C4" stroke="none" stroke-width="1"/>
<line x1="503.10" y1="136.15" x2="515.10" y2="136.15" stroke="#2F5597" stroke-width="0.6" opacity="0.6"/>
<circle cx="508.80" cy="114.60" r="1.6" fill="#4472C4"/>
<circle cx="508.80" cy="118.00" r="1.6" fill="#4472C4"/>
<circle cx="508.80" cy="150.00" r="1.6" fill="#4472C4"/>
<circle cx="508.80" cy="153.00" r="1.6" fill="#4472C4"/>
<circle cx="508.80" cy="156.70" r="1.6" fill="#4472C4"/>
<line x1="521.90" y1="123.60" x2="521.90" y2="131.10" stroke="#ED7D31" stroke-width="1"/>
<line x1="521.90" y1="152.50" x2="521.90" y2="156.40" stroke="#ED7D31" stroke-width="1"/>
<line x1="519.40" y1="123.60" x2="524.40" y2="123.60" stroke="#ED7D31" stroke-width="1"/>
<line x1="519.40" y1="156.40" x2="524.40" y2="156.40" stroke="#ED7D31" stroke-width="1"/>
<rect x="515.80" y="131.10" width="12.80" height="21.40" fill="#ED7D31" stroke="none" stroke-width="1"/>
<line x1="515.80" y1="141.80" x2="528.60" y2="141.80" stroke="#C55A11" stroke-width="0.6" opacity="0.6"/>
<circle cx="521.90" cy="123.60" r="1.6" fill="#ED7D31"/>
<circle cx="521.90" cy="127.00" r="1.6" fill="#ED7D31"/>
<circle cx="521.90" cy="156.40" r="1.6" fill="#ED7D31"/>
<text x="515.80" y="107.60" font-size="7.0" fill="#262626" stroke="#262626" stroke-width="0.12" textLength="22.60" lengthAdjust="spacingAndGlyphs"><tspan font-style="italic" font-size="8.2">p</tspan><0.05</text>
<text x="6.60" y="206.80" font-size="12.6" fill="#000" text-anchor="start" font-weight="500">B.</text>
<text x="33.60" y="206.00" font-size="10.9" fill="#000" text-anchor="start" font-weight="bold" textLength="57.30" lengthAdjust="spacingAndGlyphs">CAR T cells</text>
<text x="415.40" y="206.40" font-size="12.4" fill="#000" text-anchor="start" font-weight="500">C.</text>
<line x1="30.10" y1="210.30" x2="102.50" y2="210.30" stroke="#C0C0C0" stroke-width="0.8"/>
<line x1="102.50" y1="210.30" x2="102.50" y2="268.20" stroke="#C0C0C0" stroke-width="0.8"/>
<line x1="30.10" y1="210.30" x2="30.10" y2="268.70" stroke="#808080" stroke-width="1"/>
<line x1="29.60" y1="268.20" x2="102.50" y2="268.20" stroke="#808080" stroke-width="1"/>
<text x="26.80" y="271.30" font-size="6.6" fill="#333333" text-anchor="end">0</text>
<text x="26.80" y="261.65" font-size="6.6" fill="#333333" text-anchor="end">10</text>
<text x="26.80" y="252.00" font-size="6.6" fill="#333333" text-anchor="end">20</text>
<text x="26.80" y="242.35" font-size="6.6" fill="#333333" text-anchor="end">30</text>
<text x="26.80" y="232.70" font-size="6.6" fill="#333333" text-anchor="end">40</text>
<text x="26.80" y="223.05" font-size="6.6" fill="#333333" text-anchor="end">50</text>
<text x="26.80" y="213.40" font-size="6.6" fill="#333333" text-anchor="end">60</text>
<text x="31.10" y="277.20" font-size="6.6" fill="#333333" text-anchor="middle">0</text>
<text x="43.17" y="277.20" font-size="6.6" fill="#333333" text-anchor="middle">10</text>
<text x="55.23" y="277.20" font-size="6.6" fill="#333333" text-anchor="middle">20</text>
<text x="67.30" y="277.20" font-size="6.6" fill="#333333" text-anchor="middle">30</text>
<text x="79.37" y="277.20" font-size="6.6" fill="#333333" text-anchor="middle">40</text>
<text x="91.43" y="277.20" font-size="6.6" fill="#333333" text-anchor="middle">50</text>
<text x="103.50" y="277.20" font-size="6.6" fill="#333333" text-anchor="middle">60</text>
<text x="16.47" y="239.70" font-size="10.2" fill="#262626" text-anchor="middle" textLength="37.00" lengthAdjust="spacingAndGlyphs" transform="rotate(-90 16.47 239.70)">% PD-1+</text>
<text x="32.30" y="290.10" font-size="9.3" fill="#262626" text-anchor="start" textLength="70.00" lengthAdjust="spacingAndGlyphs">% exhausted CD8</text>
<circle cx="30.50" cy="234.50" r="1.55" fill="#00008B"/>
<circle cx="36.30" cy="229.70" r="1.55" fill="#00008B"/>
<circle cx="38.10" cy="233.10" r="1.55" fill="#00008B"/>
<circle cx="38.80" cy="232.60" r="1.55" fill="#00008B"/>
<circle cx="38.80" cy="238.20" r="1.55" fill="#00008B"/>
<circle cx="47.30" cy="225.80" r="1.55" fill="#00008B"/>
<circle cx="32.00" cy="250.10" r="1.55" fill="#00008B"/>
<circle cx="33.00" cy="251.50" r="1.55" fill="#00008B"/>
<circle cx="34.00" cy="251.50" r="1.55" fill="#00008B"/>
<circle cx="32.30" cy="252.30" r="1.55" fill="#00008B"/>
<circle cx="36.60" cy="257.40" r="1.55" fill="#00008B"/>
<circle cx="37.80" cy="257.40" r="1.55" fill="#00008B"/>
<circle cx="42.20" cy="250.40" r="1.55" fill="#00008B"/>
<circle cx="42.50" cy="254.50" r="1.55" fill="#00008B"/>
<circle cx="46.10" cy="255.60" r="1.55" fill="#00008B"/>
<circle cx="48.30" cy="259.30" r="1.55" fill="#00008B"/>
<circle cx="48.30" cy="264.60" r="1.55" fill="#00008B"/>
<circle cx="52.60" cy="247.20" r="1.55" fill="#00008B"/>
<circle cx="53.10" cy="246.50" r="1.55" fill="#00008B"/>
<circle cx="53.40" cy="244.00" r="1.55" fill="#00008B"/>
<circle cx="54.50" cy="256.20" r="1.55" fill="#00008B"/>
<circle cx="59.50" cy="237.30" r="1.55" fill="#00008B"/>
<circle cx="63.10" cy="238.20" r="1.55" fill="#00008B"/>
<circle cx="59.90" cy="250.50" r="1.55" fill="#00008B"/>
<circle cx="63.10" cy="250.50" r="1.55" fill="#00008B"/>
<circle cx="67.60" cy="228.60" r="1.55" fill="#00008B"/>
<circle cx="71.30" cy="222.90" r="1.55" fill="#00008B"/>
<circle cx="72.60" cy="238.20" r="1.55" fill="#00008B"/>
<circle cx="81.00" cy="234.50" r="1.55" fill="#00008B"/>
<circle cx="93.10" cy="222.00" r="1.55" fill="#00008B"/>
<circle cx="95.50" cy="219.10" r="1.55" fill="#00008B"/>
<circle cx="31.50" cy="259.50" r="1.55" fill="#00008B"/>
<circle cx="30.80" cy="263.20" r="1.55" fill="#00008B"/>
<circle cx="32.30" cy="262.50" r="1.55" fill="#00008B"/>
<circle cx="33.70" cy="263.90" r="1.55" fill="#00008B"/>
<circle cx="35.20" cy="263.20" r="1.55" fill="#00008B"/>
<circle cx="37.40" cy="262.50" r="1.55" fill="#00008B"/>
<circle cx="33.00" cy="261.00" r="1.55" fill="#00008B"/>
<circle cx="34.50" cy="264.60" r="1.55" fill="#00008B"/>
<line x1="30.50" y1="257.40" x2="95.50" y2="223.50" stroke="#1a1a1a" stroke-width="1.3"/>
<text x="71.30" y="263.60" font-size="7.4" fill="#262626" text-anchor="start" textLength="30.10" lengthAdjust="spacingAndGlyphs">R²=0.4349</text>
<line x1="133.50" y1="210.90" x2="201.40" y2="210.90" stroke="#C0C0C0" stroke-width="0.8"/>
<line x1="201.40" y1="210.90" x2="201.40" y2="267.20" stroke="#C0C0C0" stroke-width="0.8"/>
<line x1="133.50" y1="210.90" x2="133.50" y2="267.70" stroke="#808080" stroke-width="1"/>
<line x1="133.00" y1="267.20" x2="201.40" y2="267.20" stroke="#808080" stroke-width="1"/>
<text x="130.20" y="270.30" font-size="6.6" fill="#333333" text-anchor="end">0</text>
<text x="130.20" y="262.26" font-size="6.6" fill="#333333" text-anchor="end">10</text>
<text x="130.20" y="254.21" font-size="6.6" fill="#333333" text-anchor="end">20</text>
<text x="130.20" y="246.17" font-size="6.6" fill="#333333" text-anchor="end">30</text>
<text x="130.20" y="238.13" font-size="6.6" fill="#333333" text-anchor="end">40</text>
<text x="130.20" y="230.09" font-size="6.6" fill="#333333" text-anchor="end">50</text>
<text x="130.20" y="222.04" font-size="6.6" fill="#333333" text-anchor="end">60</text>
<text x="130.20" y="214.00" font-size="6.6" fill="#333333" text-anchor="end">70</text>
<text x="134.50" y="277.90" font-size="6.6" fill="#333333" text-anchor="middle">0</text>
<text x="145.82" y="277.90" font-size="6.6" fill="#333333" text-anchor="middle">10</text>
<text x="157.13" y="277.90" font-size="6.6" fill="#333333" text-anchor="middle">20</text>
<text x="168.45" y="277.90" font-size="6.6" fill="#333333" text-anchor="middle">30</text>
<text x="179.77" y="277.90" font-size="6.6" fill="#333333" text-anchor="middle">40</text>
<text x="191.08" y="277.90" font-size="6.6" fill="#333333" text-anchor="middle">50</text>
<text x="202.40" y="277.90" font-size="6.6" fill="#333333" text-anchor="middle">60</text>
<text x="122.17" y="241.00" font-size="10.2" fill="#262626" text-anchor="middle" textLength="38.70" lengthAdjust="spacingAndGlyphs" transform="rotate(-90 122.17 241.00)">% LAG3+</text>
<text x="132.30" y="290.70" font-size="9.3" fill="#262626" text-anchor="start" textLength="68.60" lengthAdjust="spacingAndGlyphs">% exhausted CD8</text>
<circle cx="135.80" cy="215.00" r="1.55" fill="#00008B"/>
<circle cx="141.70" cy="221.20" r="1.55" fill="#00008B"/>
<circle cx="137.10" cy="226.30" r="1.55" fill="#00008B"/>
<circle cx="140.50" cy="226.90" r="1.55" fill="#00008B"/>
<circle cx="148.50" cy="225.10" r="1.55" fill="#00008B"/>
<circle cx="149.40" cy="228.50" r="1.55" fill="#00008B"/>
<circle cx="156.40" cy="225.40" r="1.55" fill="#00008B"/>
<circle cx="162.10" cy="223.10" r="1.55" fill="#00008B"/>
<circle cx="195.30" cy="223.10" r="1.55" fill="#00008B"/>
<circle cx="164.40" cy="233.30" r="1.55" fill="#00008B"/>
<circle cx="172.10" cy="234.40" r="1.55" fill="#00008B"/>
<circle cx="173.40" cy="240.10" r="1.55" fill="#00008B"/>
<circle cx="135.00" cy="234.80" r="1.55" fill="#00008B"/>
<circle cx="134.60" cy="237.50" r="1.55" fill="#00008B"/>
<circle cx="135.00" cy="239.00" r="1.55" fill="#00008B"/>
<circle cx="141.70" cy="236.70" r="1.55" fill="#00008B"/>
<circle cx="150.50" cy="237.50" r="1.55" fill="#00008B"/>
<circle cx="150.50" cy="242.40" r="1.55" fill="#00008B"/>
<circle cx="134.00" cy="241.30" r="1.55" fill="#00008B"/>
<circle cx="135.80" cy="242.40" r="1.55" fill="#00008B"/>
<circle cx="137.40" cy="242.10" r="1.55" fill="#00008B"/>
<circle cx="139.70" cy="242.10" r="1.55" fill="#00008B"/>
<circle cx="140.50" cy="241.80" r="1.55" fill="#00008B"/>
<circle cx="144.80" cy="246.40" r="1.55" fill="#00008B"/>
<circle cx="155.10" cy="247.20" r="1.55" fill="#00008B"/>
<circle cx="137.10" cy="248.00" r="1.55" fill="#00008B"/>
<circle cx="138.90" cy="248.30" r="1.55" fill="#00008B"/>
<circle cx="139.70" cy="250.60" r="1.55" fill="#00008B"/>
<circle cx="161.00" cy="252.90" r="1.55" fill="#00008B"/>
<circle cx="134.00" cy="254.50" r="1.55" fill="#00008B"/>
<circle cx="137.10" cy="256.00" r="1.55" fill="#00008B"/>
<circle cx="144.80" cy="259.40" r="1.55" fill="#00008B"/>
<circle cx="134.30" cy="262.70" r="1.55" fill="#00008B"/>
<line x1="133.50" y1="241.80" x2="195.30" y2="226.60" stroke="#1a1a1a" stroke-width="1.3"/>
<text x="167.50" y="266.60" font-size="7.4" fill="#262626" text-anchor="start" textLength="32.90" lengthAdjust="spacingAndGlyphs">R²=0.0896</text>
<line x1="227.30" y1="210.80" x2="297.50" y2="210.80" stroke="#C0C0C0" stroke-width="0.8"/>
<line x1="297.50" y1="210.80" x2="297.50" y2="264.70" stroke="#C0C0C0" stroke-width="0.8"/>
<line x1="227.30" y1="210.80" x2="227.30" y2="265.20" stroke="#808080" stroke-width="1"/>
<line x1="226.80" y1="264.70" x2="297.50" y2="264.70" stroke="#808080" stroke-width="1"/>
<text x="224.00" y="267.80" font-size="6.6" fill="#333333" text-anchor="end">0</text>
<text x="224.00" y="257.02" font-size="6.6" fill="#333333" text-anchor="end">20</text>
<text x="224.00" y="246.24" font-size="6.6" fill="#333333" text-anchor="end">40</text>
<text x="224.00" y="235.46" font-size="6.6" fill="#333333" text-anchor="end">60</text>
<text x="224.00" y="224.68" font-size="6.6" fill="#333333" text-anchor="end">80</text>
<text x="224.00" y="213.90" font-size="6.6" fill="#333333" text-anchor="end">100</text>
<text x="228.30" y="274.40" font-size="6.6" fill="#333333" text-anchor="middle">0</text>
<text x="240.00" y="274.40" font-size="6.6" fill="#333333" text-anchor="middle">10</text>
<text x="251.70" y="274.40" font-size="6.6" fill="#333333" text-anchor="middle">20</text>
<text x="263.40" y="274.40" font-size="6.6" fill="#333333" text-anchor="middle">30</text>
<text x="275.10" y="274.40" font-size="6.6" fill="#333333" text-anchor="middle">40</text>
<text x="286.80" y="274.40" font-size="6.6" fill="#333333" text-anchor="middle">50</text>
<text x="298.50" y="274.40" font-size="6.6" fill="#333333" text-anchor="middle">60</text>
<text x="213.67" y="240.20" font-size="10.2" fill="#262626" text-anchor="middle" textLength="35.20" lengthAdjust="spacingAndGlyphs" transform="rotate(-90 213.67 240.20)">% IL7-R+</text>
<text x="226.20" y="289.30" font-size="9.3" fill="#262626" text-anchor="start" textLength="69.90" lengthAdjust="spacingAndGlyphs">% exhausted CD8</text>
<circle cx="231.30" cy="211.10" r="1.55" fill="#00008B"/>
<circle cx="243.00" cy="211.10" r="1.55" fill="#00008B"/>
<circle cx="248.80" cy="211.10" r="1.55" fill="#00008B"/>
<circle cx="228.00" cy="224.30" r="1.55" fill="#00008B"/>
<circle cx="231.30" cy="223.50" r="1.55" fill="#00008B"/>
<circle cx="235.00" cy="222.90" r="1.55" fill="#00008B"/>
<circle cx="229.00" cy="229.40" r="1.55" fill="#00008B"/>
<circle cx="230.20" cy="231.90" r="1.55" fill="#00008B"/>
<circle cx="230.90" cy="232.60" r="1.55" fill="#00008B"/>
<circle cx="235.00" cy="232.90" r="1.55" fill="#00008B"/>
<circle cx="239.60" cy="232.90" r="1.55" fill="#00008B"/>
<circle cx="229.50" cy="235.50" r="1.55" fill="#00008B"/>
<circle cx="230.20" cy="236.30" r="1.55" fill="#00008B"/>
<circle cx="233.80" cy="237.30" r="1.55" fill="#00008B"/>
<circle cx="236.00" cy="238.70" r="1.55" fill="#00008B"/>
<circle cx="230.50" cy="240.60" r="1.55" fill="#00008B"/>
<circle cx="231.60" cy="242.10" r="1.55" fill="#00008B"/>
<circle cx="233.10" cy="241.10" r="1.55" fill="#00008B"/>
<circle cx="234.50" cy="243.50" r="1.55" fill="#00008B"/>
<circle cx="235.70" cy="244.30" r="1.55" fill="#00008B"/>
<circle cx="245.50" cy="245.40" r="1.55" fill="#00008B"/>
<circle cx="268.40" cy="245.00" r="1.55" fill="#00008B"/>
<circle cx="250.50" cy="247.50" r="1.55" fill="#00008B"/>
<circle cx="251.30" cy="248.60" r="1.55" fill="#00008B"/>
<circle cx="255.60" cy="248.20" r="1.55" fill="#00008B"/>
<circle cx="244.00" cy="249.40" r="1.55" fill="#00008B"/>
<circle cx="228.00" cy="249.40" r="1.55" fill="#00008B"/>
<circle cx="228.40" cy="251.50" r="1.55" fill="#00008B"/>
<circle cx="259.30" cy="253.00" r="1.55" fill="#00008B"/>
<circle cx="239.60" cy="254.20" r="1.55" fill="#00008B"/>
<circle cx="264.10" cy="254.20" r="1.55" fill="#00008B"/>
<circle cx="288.40" cy="253.70" r="1.55" fill="#00008B"/>
<circle cx="256.80" cy="256.20" r="1.55" fill="#00008B"/>
<circle cx="228.00" cy="257.80" r="1.55" fill="#00008B"/>
<circle cx="249.80" cy="259.10" r="1.55" fill="#00008B"/>
<circle cx="259.30" cy="259.50" r="1.55" fill="#00008B"/>
<circle cx="276.70" cy="259.10" r="1.55" fill="#00008B"/>
<circle cx="245.50" cy="261.00" r="1.55" fill="#00008B"/>
<circle cx="255.60" cy="261.70" r="1.55" fill="#00008B"/>
<circle cx="267.30" cy="262.90" r="1.55" fill="#00008B"/>
<circle cx="290.80" cy="261.00" r="1.55" fill="#00008B"/>
<line x1="228.40" y1="236.00" x2="290.80" y2="263.90" stroke="#1a1a1a" stroke-width="1.3"/>
<text x="265.80" y="224.80" font-size="7.4" fill="#262626" text-anchor="start" textLength="31.00" lengthAdjust="spacingAndGlyphs">R²=0.2893</text>
<line x1="327.00" y1="211.10" x2="396.40" y2="211.10" stroke="#C0C0C0" stroke-width="0.8"/>
<line x1="396.40" y1="211.10" x2="396.40" y2="265.80" stroke="#C0C0C0" stroke-width="0.8"/>
<line x1="327.00" y1="211.10" x2="327.00" y2="266.30" stroke="#808080" stroke-width="1"/>
<line x1="326.50" y1="265.80" x2="396.40" y2="265.80" stroke="#808080" stroke-width="1"/>
<text x="323.70" y="268.90" font-size="6.6" fill="#333333" text-anchor="end">0</text>
<text x="323.70" y="257.96" font-size="6.6" fill="#333333" text-anchor="end">10</text>
<text x="323.70" y="247.02" font-size="6.6" fill="#333333" text-anchor="end">20</text>
<text x="323.70" y="236.08" font-size="6.6" fill="#333333" text-anchor="end">30</text>
<text x="323.70" y="225.14" font-size="6.6" fill="#333333" text-anchor="end">40</text>
<text x="323.70" y="214.20" font-size="6.6" fill="#333333" text-anchor="end">50</text>
<text x="328.00" y="275.10" font-size="6.6" fill="#333333" text-anchor="middle">0</text>
<text x="339.57" y="275.10" font-size="6.6" fill="#333333" text-anchor="middle">10</text>
<text x="351.13" y="275.10" font-size="6.6" fill="#333333" text-anchor="middle">20</text>
<text x="362.70" y="275.10" font-size="6.6" fill="#333333" text-anchor="middle">30</text>
<text x="374.27" y="275.10" font-size="6.6" fill="#333333" text-anchor="middle">40</text>
<text x="385.83" y="275.10" font-size="6.6" fill="#333333" text-anchor="middle">50</text>
<text x="397.40" y="275.10" font-size="6.6" fill="#333333" text-anchor="middle">60</text>
<text x="314.87" y="240.30" font-size="10.2" fill="#262626" text-anchor="middle" textLength="36.00" lengthAdjust="spacingAndGlyphs" transform="rotate(-90 314.87 240.30)">% CCR7+</text>
<text x="325.20" y="290.00" font-size="9.3" fill="#262626" text-anchor="start" textLength="69.10" lengthAdjust="spacingAndGlyphs">% exhausted CD8</text>
<circle cx="334.10" cy="219.10" r="1.55" fill="#00008B"/>
<circle cx="329.50" cy="227.80" r="1.55" fill="#00008B"/>
<circle cx="344.30" cy="227.80" r="1.55" fill="#00008B"/>
<circle cx="333.80" cy="236.30" r="1.55" fill="#00008B"/>
<circle cx="329.50" cy="240.60" r="1.55" fill="#00008B"/>
<circle cx="330.50" cy="241.70" r="1.55" fill="#00008B"/>
<circle cx="347.60" cy="248.30" r="1.55" fill="#00008B"/>
<circle cx="386.60" cy="245.00" r="1.55" fill="#00008B"/>
<circle cx="330.20" cy="249.40" r="1.55" fill="#00008B"/>
<circle cx="328.70" cy="251.50" r="1.55" fill="#00008B"/>
<circle cx="327.30" cy="253.00" r="1.55" fill="#00008B"/>
<circle cx="334.30" cy="253.00" r="1.55" fill="#00008B"/>
<circle cx="334.50" cy="252.30" r="1.55" fill="#00008B"/>
<circle cx="341.80" cy="255.90" r="1.55" fill="#00008B"/>
<circle cx="354.90" cy="255.20" r="1.55" fill="#00008B"/>
<circle cx="358.10" cy="256.20" r="1.55" fill="#00008B"/>
<circle cx="328.00" cy="256.60" r="1.55" fill="#00008B"/>
<circle cx="330.90" cy="258.10" r="1.55" fill="#00008B"/>
<circle cx="334.50" cy="257.40" r="1.55" fill="#00008B"/>
<circle cx="343.30" cy="259.50" r="1.55" fill="#00008B"/>
<circle cx="344.00" cy="261.00" r="1.55" fill="#00008B"/>
<circle cx="349.10" cy="258.50" r="1.55" fill="#00008B"/>
<circle cx="349.80" cy="259.50" r="1.55" fill="#00008B"/>
<circle cx="366.80" cy="258.10" r="1.55" fill="#00008B"/>
<circle cx="389.10" cy="258.10" r="1.55" fill="#00008B"/>
<circle cx="327.30" cy="260.30" r="1.55" fill="#00008B"/>
<circle cx="328.70" cy="261.00" r="1.55" fill="#00008B"/>
<circle cx="332.40" cy="261.00" r="1.55" fill="#00008B"/>
<circle cx="331.30" cy="262.50" r="1.55" fill="#00008B"/>
<circle cx="331.60" cy="263.90" r="1.55" fill="#00008B"/>
<circle cx="329.50" cy="264.60" r="1.55" fill="#00008B"/>
<circle cx="338.20" cy="262.50" r="1.55" fill="#00008B"/>
<circle cx="348.80" cy="263.60" r="1.55" fill="#00008B"/>
<circle cx="354.60" cy="262.50" r="1.55" fill="#00008B"/>
<circle cx="358.10" cy="261.40" r="1.55" fill="#00008B"/>
<circle cx="362.50" cy="264.60" r="1.55" fill="#00008B"/>
<circle cx="366.30" cy="264.30" r="1.55" fill="#00008B"/>
<circle cx="375.00" cy="262.50" r="1.55" fill="#00008B"/>
<line x1="327.30" y1="247.20" x2="389.10" y2="263.20" stroke="#1a1a1a" stroke-width="1.3"/>
<text x="363.60" y="225.10" font-size="7.4" fill="#262626" text-anchor="start" textLength="30.60" lengthAdjust="spacingAndGlyphs">R²=0.0559</text>
<line x1="454.10" y1="212.60" x2="539.50" y2="212.60" stroke="#C0C0C0" stroke-width="0.8"/>
<line x1="539.50" y1="212.60" x2="539.50" y2="273.70" stroke="#C0C0C0" stroke-width="0.8"/>
<line x1="454.10" y1="212.60" x2="454.10" y2="274.20" stroke="#808080" stroke-width="1"/>
<line x1="453.60" y1="273.70" x2="539.50" y2="273.70" stroke="#808080" stroke-width="1"/>
<text x="449.10" y="276.80" font-size="6.6" fill="#333333" text-anchor="end">0</text>
<text x="449.10" y="266.62" font-size="6.6" fill="#333333" text-anchor="end">10</text>
<text x="449.10" y="256.43" font-size="6.6" fill="#333333" text-anchor="end">20</text>
<text x="449.10" y="246.25" font-size="6.6" fill="#333333" text-anchor="end">30</text>
<text x="449.10" y="236.07" font-size="6.6" fill="#333333" text-anchor="end">40</text>
<text x="449.10" y="225.88" font-size="6.6" fill="#333333" text-anchor="end">50</text>
<text x="449.10" y="215.70" font-size="6.6" fill="#333333" text-anchor="end">60</text>
<text x="455.10" y="283.70" font-size="6.6" fill="#333333" text-anchor="middle">0.0</text>
<text x="492.47" y="283.70" font-size="6.6" fill="#333333" text-anchor="middle">20.0</text>
<text x="529.85" y="283.70" font-size="6.6" fill="#333333" text-anchor="middle">40.0</text>
<text x="434.12" y="249.50" font-size="9.2" fill="#262626" text-anchor="middle" textLength="64.00" lengthAdjust="spacingAndGlyphs" transform="rotate(-90 434.12 249.50)">% exhausted CD8</text>
<text x="455.00" y="296.10" font-size="9.3" fill="#262626" text-anchor="start" textLength="85.00" lengthAdjust="spacingAndGlyphs">CAR T fold expansion</text>
<circle cx="461.00" cy="218.60" r="1.55" fill="#141432"/>
<circle cx="469.90" cy="220.80" r="1.55" fill="#141432"/>
<circle cx="493.70" cy="230.80" r="1.55" fill="#141432"/>
<circle cx="486.50" cy="238.10" r="1.55" fill="#141432"/>
<circle cx="504.10" cy="239.00" r="1.55" fill="#141432"/>
<circle cx="471.90" cy="242.30" r="1.55" fill="#141432"/>
<circle cx="476.30" cy="245.90" r="1.55" fill="#141432"/>
<circle cx="476.80" cy="249.00" r="1.55" fill="#141432"/>
<circle cx="487.70" cy="246.50" r="1.55" fill="#141432"/>
<circle cx="490.50" cy="248.30" r="1.55" fill="#141432"/>
<circle cx="491.90" cy="249.20" r="1.55" fill="#141432"/>
<circle cx="464.60" cy="253.20" r="1.55" fill="#141432"/>
<circle cx="483.70" cy="254.10" r="1.55" fill="#141432"/>
<circle cx="471.00" cy="255.00" r="1.55" fill="#141432"/>
<circle cx="501.90" cy="254.10" r="1.55" fill="#141432"/>
<circle cx="482.80" cy="257.70" r="1.55" fill="#141432"/>
<circle cx="483.70" cy="258.60" r="1.55" fill="#141432"/>
<circle cx="512.30" cy="259.50" r="1.55" fill="#141432"/>
<circle cx="526.50" cy="260.50" r="1.55" fill="#141432"/>
<circle cx="504.10" cy="263.50" r="1.55" fill="#141432"/>
<circle cx="531.90" cy="263.50" r="1.55" fill="#141432"/>
<circle cx="467.70" cy="266.80" r="1.55" fill="#141432"/>
<circle cx="485.90" cy="267.70" r="1.55" fill="#141432"/>
<circle cx="486.80" cy="269.50" r="1.55" fill="#141432"/>
<circle cx="497.40" cy="268.60" r="1.55" fill="#141432"/>
<circle cx="500.50" cy="267.70" r="1.55" fill="#141432"/>
<circle cx="500.50" cy="269.50" r="1.55" fill="#141432"/>
<circle cx="469.20" cy="270.80" r="1.55" fill="#141432"/>
<circle cx="519.20" cy="267.70" r="1.55" fill="#141432"/>
<circle cx="457.40" cy="272.30" r="1.55" fill="#141432"/>
<circle cx="467.70" cy="273.20" r="1.55" fill="#141432"/>
<circle cx="487.70" cy="270.50" r="1.55" fill="#141432"/>
<circle cx="493.70" cy="273.50" r="1.55" fill="#141432"/>
<circle cx="499.20" cy="272.30" r="1.55" fill="#141432"/>
<circle cx="500.50" cy="273.20" r="1.55" fill="#141432"/>
<circle cx="506.80" cy="270.80" r="1.55" fill="#141432"/>
<circle cx="508.60" cy="272.60" r="1.55" fill="#141432"/>
<circle cx="511.40" cy="271.90" r="1.55" fill="#141432"/>
<circle cx="522.30" cy="271.40" r="1.55" fill="#141432"/>
<circle cx="525.00" cy="270.50" r="1.55" fill="#141432"/>
<circle cx="529.20" cy="273.50" r="1.55" fill="#141432"/>
<circle cx="531.90" cy="271.40" r="1.55" fill="#141432"/>
<circle cx="533.70" cy="271.90" r="1.55" fill="#141432"/>
<line x1="457.40" y1="249.00" x2="533.70" y2="270.10" stroke="#1a1a1a" stroke-width="1.3"/>
<text x="504.60" y="222.50" font-size="7.4" fill="#262626" text-anchor="start" textLength="35.30" lengthAdjust="spacingAndGlyphs">R² =0.1664</text>
<text x="8.90" y="334.00" font-size="12.8" fill="#000" text-anchor="start" font-weight="500">D.</text>
<text x="61.00" y="342.00" font-size="9.8" fill="#000" text-anchor="start" font-weight="bold" textLength="26.80" lengthAdjust="spacingAndGlyphs">CR/PR</text>
<rect x="36.40" y="345.80" width="75.90" height="65.10" fill="#fff" stroke="#808080" stroke-width="1.25"/>
<text x="29.20" y="414.10" font-size="8.6" fill="#767676" text-anchor="end" stroke="#767676" stroke-width="0.3" textLength="4.30" lengthAdjust="spacingAndGlyphs">0</text>
<text x="29.20" y="392.40" font-size="8.6" fill="#767676" text-anchor="end" stroke="#767676" stroke-width="0.3" textLength="8.61" lengthAdjust="spacingAndGlyphs">20</text>
<text x="29.20" y="370.70" font-size="8.6" fill="#767676" text-anchor="end" stroke="#767676" stroke-width="0.3" textLength="8.61" lengthAdjust="spacingAndGlyphs">40</text>
<text x="29.20" y="349.00" font-size="8.6" fill="#767676" text-anchor="end" stroke="#767676" stroke-width="0.3" textLength="8.61" lengthAdjust="spacingAndGlyphs">60</text>
<text x="17.10" y="380.50" font-size="8.4" fill="#555555" text-anchor="middle" stroke="#555555" stroke-width="0.3" textLength="47.80" lengthAdjust="spacingAndGlyphs" transform="rotate(-90 17.10 380.50)">% exhausted</text>
<text x="44.10" y="360.10" font-size="9.6" fill="#262626" text-anchor="start" stroke="#262626" stroke-width="0.3" textLength="18.30" lengthAdjust="spacingAndGlyphs">CD8+</text>
<text x="52.40" y="420.10" font-size="8.0" fill="#404040" text-anchor="middle" stroke="#404040" stroke-width="0.3" textLength="8.60" lengthAdjust="spacingAndGlyphs">PB</text>
<text x="82.80" y="420.10" font-size="8.0" fill="#404040" text-anchor="middle" stroke="#404040" stroke-width="0.3" textLength="18.40" lengthAdjust="spacingAndGlyphs">CAR T</text>
<line x1="55.70" y1="410.90" x2="93.60" y2="383.77" stroke="#F4B183" stroke-width="1.6"/>
<circle cx="55.70" cy="410.90" r="2.3" fill="#F4B183"/>
<circle cx="93.60" cy="383.77" r="2.3" fill="#F4B183"/>
<line x1="55.70" y1="395.71" x2="93.60" y2="408.73" stroke="#F1975A" stroke-width="1.6"/>
<circle cx="55.70" cy="395.71" r="2.3" fill="#F1975A"/>
<circle cx="93.60" cy="408.73" r="2.3" fill="#F1975A"/>
<line x1="55.70" y1="410.90" x2="93.60" y2="389.20" stroke="#ED7D31" stroke-width="1.6"/>
<circle cx="55.70" cy="410.90" r="2.3" fill="#ED7D31"/>
<circle cx="93.60" cy="389.20" r="2.3" fill="#ED7D31"/>
<line x1="55.70" y1="409.81" x2="93.60" y2="391.37" stroke="#C55A11" stroke-width="1.6"/>
<circle cx="55.70" cy="409.81" r="2.3" fill="#C55A11"/>
<circle cx="93.60" cy="391.37" r="2.3" fill="#C55A11"/>
<line x1="55.70" y1="410.90" x2="93.60" y2="394.62" stroke="#A5A5A5" stroke-width="1.6"/>
<circle cx="55.70" cy="410.90" r="2.3" fill="#A5A5A5"/>
<circle cx="93.60" cy="394.62" r="2.3" fill="#A5A5A5"/>
<line x1="55.70" y1="410.90" x2="93.60" y2="396.79" stroke="#D0D0D0" stroke-width="1.6"/>
<circle cx="55.70" cy="410.90" r="2.3" fill="#D0D0D0"/>
<circle cx="93.60" cy="396.79" r="2.3" fill="#D0D0D0"/>
<line x1="55.70" y1="407.64" x2="93.60" y2="395.71" stroke="#4472C4" stroke-width="1.6"/>
<circle cx="55.70" cy="407.64" r="2.3" fill="#4472C4"/>
<circle cx="93.60" cy="395.71" r="2.3" fill="#4472C4"/>
<line x1="55.70" y1="409.81" x2="93.60" y2="400.05" stroke="#9DC3E6" stroke-width="1.6"/>
<circle cx="55.70" cy="409.81" r="2.3" fill="#9DC3E6"/>
<circle cx="93.60" cy="400.05" r="2.3" fill="#9DC3E6"/>
<line x1="55.70" y1="410.90" x2="93.60" y2="402.22" stroke="#7CAFDD" stroke-width="1.6"/>
<circle cx="55.70" cy="410.90" r="2.3" fill="#7CAFDD"/>
<circle cx="93.60" cy="402.22" r="2.3" fill="#7CAFDD"/>
<line x1="55.70" y1="404.39" x2="93.60" y2="410.90" stroke="#70AD47" stroke-width="1.6"/>
<circle cx="55.70" cy="404.39" r="2.3" fill="#70AD47"/>
<circle cx="93.60" cy="410.90" r="2.3" fill="#70AD47"/>
<line x1="55.70" y1="409.81" x2="93.60" y2="404.39" stroke="#FFC000" stroke-width="1.6"/>
<circle cx="55.70" cy="409.81" r="2.3" fill="#FFC000"/>
<circle cx="93.60" cy="404.39" r="2.3" fill="#FFC000"/>
<line x1="55.70" y1="410.90" x2="93.60" y2="405.47" stroke="#997300" stroke-width="1.6"/>
<circle cx="55.70" cy="410.90" r="2.3" fill="#997300"/>
<circle cx="93.60" cy="405.47" r="2.3" fill="#997300"/>
<line x1="55.70" y1="408.73" x2="93.60" y2="407.64" stroke="#264478" stroke-width="1.6"/>
<circle cx="55.70" cy="408.73" r="2.3" fill="#264478"/>
<circle cx="93.60" cy="407.64" r="2.3" fill="#264478"/>
<line x1="55.70" y1="410.90" x2="93.60" y2="410.90" stroke="#43682B" stroke-width="1.6"/>
<circle cx="55.70" cy="410.90" r="2.3" fill="#43682B"/>
<circle cx="93.60" cy="410.90" r="2.3" fill="#43682B"/>
<line x1="55.70" y1="406.56" x2="93.60" y2="406.56" stroke="#5B9BD5" stroke-width="1.6"/>
<circle cx="55.70" cy="406.56" r="2.3" fill="#5B9BD5"/>
<circle cx="93.60" cy="406.56" r="2.3" fill="#5B9BD5"/>
<line x1="55.70" y1="392.45" x2="93.60" y2="392.45" stroke="#255E91" stroke-width="1.6"/>
<circle cx="55.70" cy="392.45" r="2.3" fill="#255E91"/>
<circle cx="93.60" cy="392.45" r="2.3" fill="#255E91"/>
<line x1="55.70" y1="384.86" x2="93.60" y2="381.61" stroke="#698ED0" stroke-width="1.6"/>
<circle cx="55.70" cy="384.86" r="2.3" fill="#698ED0"/>
<circle cx="93.60" cy="381.61" r="2.3" fill="#698ED0"/>
<text x="180.45" y="342.10" font-size="9.8" fill="#000" text-anchor="start" font-weight="bold" textLength="12.50" lengthAdjust="spacingAndGlyphs">PD</text>
<rect x="155.10" y="345.50" width="76.40" height="64.40" fill="#fff" stroke="#808080" stroke-width="1.25"/>
<text x="146.20" y="413.10" font-size="8.6" fill="#767676" text-anchor="end" stroke="#767676" stroke-width="0.3" textLength="4.30" lengthAdjust="spacingAndGlyphs">0</text>
<text x="146.20" y="391.63" font-size="8.6" fill="#767676" text-anchor="end" stroke="#767676" stroke-width="0.3" textLength="8.61" lengthAdjust="spacingAndGlyphs">20</text>
<text x="146.20" y="370.17" font-size="8.6" fill="#767676" text-anchor="end" stroke="#767676" stroke-width="0.3" textLength="8.61" lengthAdjust="spacingAndGlyphs">40</text>
<text x="146.20" y="348.70" font-size="8.6" fill="#767676" text-anchor="end" stroke="#767676" stroke-width="0.3" textLength="8.61" lengthAdjust="spacingAndGlyphs">60</text>
<text x="134.10" y="378.30" font-size="8.4" fill="#555555" text-anchor="middle" stroke="#555555" stroke-width="0.3" textLength="47.50" lengthAdjust="spacingAndGlyphs" transform="rotate(-90 134.10 378.30)">% exhausted</text>
<text x="158.70" y="360.40" font-size="9.6" fill="#262626" text-anchor="start" stroke="#262626" stroke-width="0.3" textLength="18.60" lengthAdjust="spacingAndGlyphs">CD8+</text>
<text x="167.80" y="420.10" font-size="8.0" fill="#404040" text-anchor="middle" stroke="#404040" stroke-width="0.3" textLength="8.60" lengthAdjust="spacingAndGlyphs">PB</text>
<text x="197.60" y="420.10" font-size="8.0" fill="#404040" text-anchor="middle" stroke="#404040" stroke-width="0.3" textLength="18.40" lengthAdjust="spacingAndGlyphs">CAR T</text>
<line x1="174.00" y1="409.90" x2="212.10" y2="351.94" stroke="#636363" stroke-width="1.6"/>
<circle cx="174.00" cy="409.90" r="2.3" fill="#636363"/>
<circle cx="212.10" cy="351.94" r="2.3" fill="#636363"/>
<line x1="174.00" y1="404.53" x2="212.10" y2="372.33" stroke="#9DC3E6" stroke-width="1.6"/>
<circle cx="174.00" cy="404.53" r="2.3" fill="#9DC3E6"/>
<circle cx="212.10" cy="372.33" r="2.3" fill="#9DC3E6"/>
<line x1="174.00" y1="401.31" x2="212.10" y2="376.63" stroke="#ED7D31" stroke-width="1.6"/>
<circle cx="174.00" cy="401.31" r="2.3" fill="#ED7D31"/>
<circle cx="212.10" cy="376.63" r="2.3" fill="#ED7D31"/>
<line x1="174.00" y1="404.53" x2="212.10" y2="380.92" stroke="#4472C4" stroke-width="1.6"/>
<circle cx="174.00" cy="404.53" r="2.3" fill="#4472C4"/>
<circle cx="212.10" cy="380.92" r="2.3" fill="#4472C4"/>
<line x1="174.00" y1="405.61" x2="212.10" y2="378.77" stroke="#5B9BD5" stroke-width="1.6"/>
<circle cx="174.00" cy="405.61" r="2.3" fill="#5B9BD5"/>
<circle cx="212.10" cy="378.77" r="2.3" fill="#5B9BD5"/>
<line x1="174.00" y1="404.53" x2="212.10" y2="384.14" stroke="#FFC000" stroke-width="1.6"/>
<circle cx="174.00" cy="404.53" r="2.3" fill="#FFC000"/>
<circle cx="212.10" cy="384.14" r="2.3" fill="#FFC000"/>
<line x1="174.00" y1="406.68" x2="212.10" y2="389.51" stroke="#A5A5A5" stroke-width="1.6"/>
<circle cx="174.00" cy="406.68" r="2.3" fill="#A5A5A5"/>
<circle cx="212.10" cy="389.51" r="2.3" fill="#A5A5A5"/>
<line x1="174.00" y1="400.24" x2="212.10" y2="393.80" stroke="#F4B183" stroke-width="1.6"/>
<circle cx="174.00" cy="400.24" r="2.3" fill="#F4B183"/>
<circle cx="212.10" cy="393.80" r="2.3" fill="#F4B183"/>
<line x1="174.00" y1="405.61" x2="212.10" y2="399.17" stroke="#4472C4" stroke-width="1.6"/>
<circle cx="174.00" cy="405.61" r="2.3" fill="#4472C4"/>
<circle cx="212.10" cy="399.17" r="2.3" fill="#4472C4"/>
<line x1="174.00" y1="403.46" x2="212.10" y2="403.46" stroke="#997300" stroke-width="1.6"/>
<circle cx="174.00" cy="403.46" r="2.3" fill="#997300"/>
<circle cx="212.10" cy="403.46" r="2.3" fill="#997300"/>
<line x1="174.00" y1="406.68" x2="212.10" y2="405.61" stroke="#9E480E" stroke-width="1.6"/>
<circle cx="174.00" cy="406.68" r="2.3" fill="#9E480E"/>
<circle cx="212.10" cy="405.61" r="2.3" fill="#9E480E"/>
<line x1="174.00" y1="404.53" x2="212.10" y2="408.83" stroke="#255E91" stroke-width="1.6"/>
<circle cx="174.00" cy="404.53" r="2.3" fill="#255E91"/>
<circle cx="212.10" cy="408.83" r="2.3" fill="#255E91"/>
<line x1="174.00" y1="407.75" x2="212.10" y2="407.75" stroke="#264478" stroke-width="1.6"/>
<circle cx="174.00" cy="407.75" r="2.3" fill="#264478"/>
<circle cx="212.10" cy="407.75" r="2.3" fill="#264478"/>
<line x1="174.00" y1="379.85" x2="212.10" y2="373.41" stroke="#B7B7B7" stroke-width="1.6"/>
<circle cx="174.00" cy="379.85" r="2.3" fill="#B7B7B7"/>
<circle cx="212.10" cy="373.41" r="2.3" fill="#B7B7B7"/>
<line x1="174.00" y1="375.55" x2="212.10" y2="364.82" stroke="#70AD47" stroke-width="1.6"/>
<circle cx="174.00" cy="375.55" r="2.3" fill="#70AD47"/>
<circle cx="212.10" cy="364.82" r="2.3" fill="#70AD47"/>
<line x1="174.00" y1="366.97" x2="212.10" y2="354.09" stroke="#264478" stroke-width="1.6"/>
<circle cx="174.00" cy="366.97" r="2.3" fill="#264478"/>
<circle cx="212.10" cy="354.09" r="2.3" fill="#264478"/>
<rect x="39.50" y="425.70" width="73.80" height="68.30" fill="#fff" stroke="#808080" stroke-width="1.25"/>
<text x="31.30" y="497.20" font-size="8.6" fill="#767676" text-anchor="end" stroke="#767676" stroke-width="0.3" textLength="4.30" lengthAdjust="spacingAndGlyphs">0</text>
<text x="31.30" y="474.43" font-size="8.6" fill="#767676" text-anchor="end" stroke="#767676" stroke-width="0.3" textLength="8.61" lengthAdjust="spacingAndGlyphs">20</text>
<text x="31.30" y="451.67" font-size="8.6" fill="#767676" text-anchor="end" stroke="#767676" stroke-width="0.3" textLength="8.61" lengthAdjust="spacingAndGlyphs">40</text>
<text x="31.30" y="428.90" font-size="8.6" fill="#767676" text-anchor="end" stroke="#767676" stroke-width="0.3" textLength="8.61" lengthAdjust="spacingAndGlyphs">60</text>
<text x="20.10" y="462.00" font-size="8.4" fill="#555555" text-anchor="middle" stroke="#555555" stroke-width="0.3" textLength="47.80" lengthAdjust="spacingAndGlyphs" transform="rotate(-90 20.10 462.00)">% exhausted</text>
<text x="45.30" y="441.50" font-size="9.6" fill="#262626" text-anchor="start" stroke="#262626" stroke-width="0.3" textLength="18.30" lengthAdjust="spacingAndGlyphs">CD4+</text>
<text x="56.50" y="504.00" font-size="8.0" fill="#404040" text-anchor="middle" stroke="#404040" stroke-width="0.3" textLength="8.60" lengthAdjust="spacingAndGlyphs">PB</text>
<text x="86.50" y="504.00" font-size="8.0" fill="#404040" text-anchor="middle" stroke="#404040" stroke-width="0.3" textLength="18.40" lengthAdjust="spacingAndGlyphs">CAR T</text>
<line x1="58.00" y1="475.79" x2="94.70" y2="486.03" stroke="#F1975A" stroke-width="1.6"/>
<circle cx="58.00" cy="475.79" r="2.3" fill="#F1975A"/>
<circle cx="94.70" cy="486.03" r="2.3" fill="#F1975A"/>
<line x1="58.00" y1="483.75" x2="94.70" y2="475.79" stroke="#5B9BD5" stroke-width="1.6"/>
<circle cx="58.00" cy="483.75" r="2.3" fill="#5B9BD5"/>
<circle cx="94.70" cy="475.79" r="2.3" fill="#5B9BD5"/>
<line x1="58.00" y1="491.72" x2="94.70" y2="478.06" stroke="#FFC000" stroke-width="1.6"/>
<circle cx="58.00" cy="491.72" r="2.3" fill="#FFC000"/>
<circle cx="94.70" cy="478.06" r="2.3" fill="#FFC000"/>
<line x1="58.00" y1="490.58" x2="94.70" y2="480.80" stroke="#ED7D31" stroke-width="1.6"/>
<circle cx="58.00" cy="490.58" r="2.3" fill="#ED7D31"/>
<circle cx="94.70" cy="480.80" r="2.3" fill="#ED7D31"/>
<line x1="58.00" y1="490.58" x2="94.70" y2="480.34" stroke="#9DC3E6" stroke-width="1.6"/>
<circle cx="58.00" cy="490.58" r="2.3" fill="#9DC3E6"/>
<circle cx="94.70" cy="480.34" r="2.3" fill="#9DC3E6"/>
<line x1="58.00" y1="489.45" x2="94.70" y2="483.75" stroke="#4472C4" stroke-width="1.6"/>
<circle cx="58.00" cy="489.45" r="2.3" fill="#4472C4"/>
<circle cx="94.70" cy="483.75" r="2.3" fill="#4472C4"/>
<line x1="58.00" y1="492.86" x2="94.70" y2="483.75" stroke="#F4B183" stroke-width="1.6"/>
<circle cx="58.00" cy="492.86" r="2.3" fill="#F4B183"/>
<circle cx="94.70" cy="483.75" r="2.3" fill="#F4B183"/>
<line x1="58.00" y1="492.86" x2="94.70" y2="487.17" stroke="#D0D0D0" stroke-width="1.6"/>
<circle cx="58.00" cy="492.86" r="2.3" fill="#D0D0D0"/>
<circle cx="94.70" cy="487.17" r="2.3" fill="#D0D0D0"/>
<line x1="58.00" y1="491.72" x2="94.70" y2="489.45" stroke="#264478" stroke-width="1.6"/>
<circle cx="58.00" cy="491.72" r="2.3" fill="#264478"/>
<circle cx="94.70" cy="489.45" r="2.3" fill="#264478"/>
<line x1="58.00" y1="494.00" x2="94.70" y2="491.72" stroke="#997300" stroke-width="1.6"/>
<circle cx="58.00" cy="494.00" r="2.3" fill="#997300"/>
<circle cx="94.70" cy="491.72" r="2.3" fill="#997300"/>
<line x1="58.00" y1="492.86" x2="94.70" y2="492.86" stroke="#70AD47" stroke-width="1.6"/>
<circle cx="58.00" cy="492.86" r="2.3" fill="#70AD47"/>
<circle cx="94.70" cy="492.86" r="2.3" fill="#70AD47"/>
<line x1="58.00" y1="494.00" x2="94.70" y2="494.00" stroke="#43682B" stroke-width="1.6"/>
<circle cx="58.00" cy="494.00" r="2.3" fill="#43682B"/>
<circle cx="94.70" cy="494.00" r="2.3" fill="#43682B"/>
<line x1="58.00" y1="492.29" x2="94.70" y2="465.54" stroke="#636363" stroke-width="1.6"/>
<circle cx="58.00" cy="492.29" r="2.3" fill="#636363"/>
<circle cx="94.70" cy="465.54" r="2.3" fill="#636363"/>
<rect x="156.10" y="427.30" width="73.90" height="66.20" fill="#fff" stroke="#808080" stroke-width="1.25"/>
<text x="147.30" y="496.70" font-size="8.6" fill="#767676" text-anchor="end" stroke="#767676" stroke-width="0.3" textLength="4.30" lengthAdjust="spacingAndGlyphs">0</text>
<text x="147.30" y="474.63" font-size="8.6" fill="#767676" text-anchor="end" stroke="#767676" stroke-width="0.3" textLength="8.61" lengthAdjust="spacingAndGlyphs">20</text>
<text x="147.30" y="452.57" font-size="8.6" fill="#767676" text-anchor="end" stroke="#767676" stroke-width="0.3" textLength="8.61" lengthAdjust="spacingAndGlyphs">40</text>
<text x="147.30" y="430.50" font-size="8.6" fill="#767676" text-anchor="end" stroke="#767676" stroke-width="0.3" textLength="8.61" lengthAdjust="spacingAndGlyphs">60</text>
<text x="135.90" y="460.60" font-size="8.4" fill="#555555" text-anchor="middle" stroke="#555555" stroke-width="0.3" textLength="47.50" lengthAdjust="spacingAndGlyphs" transform="rotate(-90 135.90 460.60)">% exhausted</text>
<text x="160.20" y="442.00" font-size="9.6" fill="#262626" text-anchor="start" stroke="#262626" stroke-width="0.3" textLength="18.80" lengthAdjust="spacingAndGlyphs">CD4+</text>
<text x="170.90" y="503.30" font-size="8.0" fill="#404040" text-anchor="middle" stroke="#404040" stroke-width="0.3" textLength="8.60" lengthAdjust="spacingAndGlyphs">PB</text>
<text x="200.90" y="503.30" font-size="8.0" fill="#404040" text-anchor="middle" stroke="#404040" stroke-width="0.3" textLength="18.40" lengthAdjust="spacingAndGlyphs">CAR T</text>
<line x1="174.30" y1="493.50" x2="211.20" y2="465.92" stroke="#F4B183" stroke-width="1.6"/>
<circle cx="174.30" cy="493.50" r="2.3" fill="#F4B183"/>
<circle cx="211.20" cy="465.92" r="2.3" fill="#F4B183"/>
<line x1="174.30" y1="478.05" x2="211.20" y2="487.98" stroke="#F1975A" stroke-width="1.6"/>
<circle cx="174.30" cy="478.05" r="2.3" fill="#F1975A"/>
<circle cx="211.20" cy="487.98" r="2.3" fill="#F1975A"/>
<line x1="174.30" y1="493.50" x2="211.20" y2="471.43" stroke="#ED7D31" stroke-width="1.6"/>
<circle cx="174.30" cy="493.50" r="2.3" fill="#ED7D31"/>
<circle cx="211.20" cy="471.43" r="2.3" fill="#ED7D31"/>
<line x1="174.30" y1="493.50" x2="211.20" y2="475.85" stroke="#A5A5A5" stroke-width="1.6"/>
<circle cx="174.30" cy="493.50" r="2.3" fill="#A5A5A5"/>
<circle cx="211.20" cy="475.85" r="2.3" fill="#A5A5A5"/>
<line x1="174.30" y1="493.50" x2="211.20" y2="478.05" stroke="#D0D0D0" stroke-width="1.6"/>
<circle cx="174.30" cy="493.50" r="2.3" fill="#D0D0D0"/>
<circle cx="211.20" cy="478.05" r="2.3" fill="#D0D0D0"/>
<line x1="174.30" y1="489.09" x2="211.20" y2="473.64" stroke="#4472C4" stroke-width="1.6"/>
<circle cx="174.30" cy="489.09" r="2.3" fill="#4472C4"/>
<circle cx="211.20" cy="473.64" r="2.3" fill="#4472C4"/>
<line x1="174.30" y1="492.40" x2="211.20" y2="480.26" stroke="#9DC3E6" stroke-width="1.6"/>
<circle cx="174.30" cy="492.40" r="2.3" fill="#9DC3E6"/>
<circle cx="211.20" cy="480.26" r="2.3" fill="#9DC3E6"/>
<line x1="174.30" y1="491.29" x2="211.20" y2="486.88" stroke="#9E480E" stroke-width="1.6"/>
<circle cx="174.30" cy="491.29" r="2.3" fill="#9E480E"/>
<circle cx="211.20" cy="486.88" r="2.3" fill="#9E480E"/>
<line x1="174.30" y1="486.88" x2="211.20" y2="492.95" stroke="#70AD47" stroke-width="1.6"/>
<circle cx="174.30" cy="486.88" r="2.3" fill="#70AD47"/>
<circle cx="211.20" cy="492.95" r="2.3" fill="#70AD47"/>
<line x1="174.30" y1="492.40" x2="211.20" y2="489.09" stroke="#997300" stroke-width="1.6"/>
<circle cx="174.30" cy="492.40" r="2.3" fill="#997300"/>
<circle cx="211.20" cy="489.09" r="2.3" fill="#997300"/>
<line x1="174.30" y1="491.29" x2="211.20" y2="490.19" stroke="#264478" stroke-width="1.6"/>
<circle cx="174.30" cy="491.29" r="2.3" fill="#264478"/>
<circle cx="211.20" cy="490.19" r="2.3" fill="#264478"/>
<line x1="174.30" y1="493.50" x2="211.20" y2="493.50" stroke="#43682B" stroke-width="1.6"/>
<circle cx="174.30" cy="493.50" r="2.3" fill="#43682B"/>
<circle cx="211.20" cy="493.50" r="2.3" fill="#43682B"/>
<line x1="174.30" y1="474.52" x2="211.20" y2="474.52" stroke="#255E91" stroke-width="1.6"/>
<circle cx="174.30" cy="474.52" r="2.3" fill="#255E91"/>
<circle cx="211.20" cy="474.52" r="2.3" fill="#255E91"/>
<line x1="174.30" y1="467.02" x2="211.20" y2="463.27" stroke="#698ED0" stroke-width="1.6"/>
<circle cx="174.30" cy="467.02" r="2.3" fill="#698ED0"/>
<circle cx="211.20" cy="463.27" r="2.3" fill="#698ED0"/>
<text x="264.60" y="333.40" font-size="12.8" fill="#000" text-anchor="start" font-weight="500">E.</text>
<text x="319.00" y="342.80" font-size="9.8" fill="#000" text-anchor="start" font-weight="bold" textLength="26.80" lengthAdjust="spacingAndGlyphs">CR/PR</text>
<rect x="300.10" y="346.10" width="74.90" height="66.20" fill="#fff" stroke="#808080" stroke-width="1.25"/>
<text x="291.90" y="415.50" font-size="8.6" fill="#767676" text-anchor="end" stroke="#767676" stroke-width="0.3" textLength="4.30" lengthAdjust="spacingAndGlyphs">0</text>
<text x="291.90" y="402.26" font-size="8.6" fill="#767676" text-anchor="end" stroke="#767676" stroke-width="0.3" textLength="8.61" lengthAdjust="spacingAndGlyphs">20</text>
<text x="291.90" y="389.02" font-size="8.6" fill="#767676" text-anchor="end" stroke="#767676" stroke-width="0.3" textLength="8.61" lengthAdjust="spacingAndGlyphs">40</text>
<text x="291.90" y="375.78" font-size="8.6" fill="#767676" text-anchor="end" stroke="#767676" stroke-width="0.3" textLength="8.61" lengthAdjust="spacingAndGlyphs">60</text>
<text x="291.90" y="362.54" font-size="8.6" fill="#767676" text-anchor="end" stroke="#767676" stroke-width="0.3" textLength="8.61" lengthAdjust="spacingAndGlyphs">80</text>
<text x="291.90" y="349.30" font-size="8.6" fill="#767676" text-anchor="end" stroke="#767676" stroke-width="0.3" textLength="12.91" lengthAdjust="spacingAndGlyphs">100</text>
<text x="277.10" y="382.50" font-size="8.4" fill="#555555" text-anchor="middle" stroke="#555555" stroke-width="0.3" textLength="30.10" lengthAdjust="spacingAndGlyphs" transform="rotate(-90 277.10 382.50)">% CCR7+</text>
<text x="304.50" y="358.00" font-size="9.6" fill="#262626" text-anchor="start" stroke="#262626" stroke-width="0.3" textLength="19.00" lengthAdjust="spacingAndGlyphs">CD8+</text>
<text x="317.20" y="424.70" font-size="8.0" fill="#404040" text-anchor="middle" stroke="#404040" stroke-width="0.3" textLength="8.60" lengthAdjust="spacingAndGlyphs">PB</text>
<text x="347.70" y="424.70" font-size="8.0" fill="#404040" text-anchor="middle" stroke="#404040" stroke-width="0.3" textLength="18.40" lengthAdjust="spacingAndGlyphs">CAR T</text>
<line x1="318.60" y1="410.98" x2="356.10" y2="410.31" stroke="#D0D0D0" stroke-width="1.6"/>
<circle cx="318.60" cy="410.98" r="2.3" fill="#D0D0D0"/>
<circle cx="356.10" cy="410.31" r="2.3" fill="#D0D0D0"/>
<line x1="318.60" y1="408.99" x2="356.10" y2="408.33" stroke="#9DC3E6" stroke-width="1.6"/>
<circle cx="318.60" cy="408.99" r="2.3" fill="#9DC3E6"/>
<circle cx="356.10" cy="408.33" r="2.3" fill="#9DC3E6"/>
<line x1="318.60" y1="407.00" x2="356.10" y2="409.65" stroke="#7CAFDD" stroke-width="1.6"/>
<circle cx="318.60" cy="407.00" r="2.3" fill="#7CAFDD"/>
<circle cx="356.10" cy="409.65" r="2.3" fill="#7CAFDD"/>
<line x1="318.60" y1="405.68" x2="356.10" y2="407.00" stroke="#F4B183" stroke-width="1.6"/>
<circle cx="318.60" cy="405.68" r="2.3" fill="#F4B183"/>
<circle cx="356.10" cy="407.00" r="2.3" fill="#F4B183"/>
<line x1="318.60" y1="403.69" x2="356.10" y2="406.34" stroke="#9E480E" stroke-width="1.6"/>
<circle cx="318.60" cy="403.69" r="2.3" fill="#9E480E"/>
<circle cx="356.10" cy="406.34" r="2.3" fill="#9E480E"/>
<line x1="318.60" y1="399.72" x2="356.10" y2="404.36" stroke="#F1975A" stroke-width="1.6"/>
<circle cx="318.60" cy="399.72" r="2.3" fill="#F1975A"/>
<circle cx="356.10" cy="404.36" r="2.3" fill="#F1975A"/>
<line x1="318.60" y1="398.40" x2="356.10" y2="408.99" stroke="#FFCD33" stroke-width="1.6"/>
<circle cx="318.60" cy="398.40" r="2.3" fill="#FFCD33"/>
<circle cx="356.10" cy="408.99" r="2.3" fill="#FFCD33"/>
<line x1="318.60" y1="397.07" x2="356.10" y2="407.00" stroke="#FFC000" stroke-width="1.6"/>
<circle cx="318.60" cy="397.07" r="2.3" fill="#FFC000"/>
<circle cx="356.10" cy="407.00" r="2.3" fill="#FFC000"/>
<line x1="318.60" y1="395.75" x2="356.10" y2="403.69" stroke="#4472C4" stroke-width="1.6"/>
<circle cx="318.60" cy="395.75" r="2.3" fill="#4472C4"/>
<circle cx="356.10" cy="403.69" r="2.3" fill="#4472C4"/>
<line x1="318.60" y1="395.09" x2="356.10" y2="397.07" stroke="#264478" stroke-width="1.6"/>
<circle cx="318.60" cy="395.09" r="2.3" fill="#264478"/>
<circle cx="356.10" cy="397.07" r="2.3" fill="#264478"/>
<line x1="318.60" y1="392.44" x2="356.10" y2="395.09" stroke="#997300" stroke-width="1.6"/>
<circle cx="318.60" cy="392.44" r="2.3" fill="#997300"/>
<circle cx="356.10" cy="395.09" r="2.3" fill="#997300"/>
<line x1="318.60" y1="385.16" x2="356.10" y2="405.02" stroke="#ED7D31" stroke-width="1.6"/>
<circle cx="318.60" cy="385.16" r="2.3" fill="#ED7D31"/>
<circle cx="356.10" cy="405.02" r="2.3" fill="#ED7D31"/>
<line x1="318.60" y1="384.50" x2="356.10" y2="404.36" stroke="#43682B" stroke-width="1.6"/>
<circle cx="318.60" cy="384.50" r="2.3" fill="#43682B"/>
<circle cx="356.10" cy="404.36" r="2.3" fill="#43682B"/>
<line x1="318.60" y1="381.19" x2="356.10" y2="405.68" stroke="#5B9BD5" stroke-width="1.6"/>
<circle cx="318.60" cy="381.19" r="2.3" fill="#5B9BD5"/>
<circle cx="356.10" cy="405.68" r="2.3" fill="#5B9BD5"/>
<line x1="318.60" y1="385.82" x2="356.10" y2="399.06" stroke="#70AD47" stroke-width="1.6"/>
<circle cx="318.60" cy="385.82" r="2.3" fill="#70AD47"/>
<circle cx="356.10" cy="399.06" r="2.3" fill="#70AD47"/>
<line x1="318.60" y1="400.38" x2="356.10" y2="383.83" stroke="#8CC168" stroke-width="1.6"/>
<circle cx="318.60" cy="400.38" r="2.3" fill="#8CC168"/>
<circle cx="356.10" cy="383.83" r="2.3" fill="#8CC168"/>
<line x1="318.60" y1="388.47" x2="356.10" y2="389.13" stroke="#A5A5A5" stroke-width="1.6"/>
<circle cx="318.60" cy="388.47" r="2.3" fill="#A5A5A5"/>
<circle cx="356.10" cy="389.13" r="2.3" fill="#A5A5A5"/>
<line x1="318.60" y1="383.17" x2="356.10" y2="389.13" stroke="#43682B" stroke-width="1.6"/>
<circle cx="318.60" cy="383.17" r="2.3" fill="#43682B"/>
<circle cx="356.10" cy="389.13" r="2.3" fill="#43682B"/>
<text x="440.65" y="342.70" font-size="9.8" fill="#000" text-anchor="start" font-weight="bold" textLength="12.50" lengthAdjust="spacingAndGlyphs">PD</text>
<rect x="416.40" y="344.60" width="74.10" height="67.70" fill="#fff" stroke="#808080" stroke-width="1.25"/>
<text x="408.10" y="415.50" font-size="8.6" fill="#767676" text-anchor="end" stroke="#767676" stroke-width="0.3" textLength="4.30" lengthAdjust="spacingAndGlyphs">0</text>
<text x="408.10" y="401.96" font-size="8.6" fill="#767676" text-anchor="end" stroke="#767676" stroke-width="0.3" textLength="8.61" lengthAdjust="spacingAndGlyphs">20</text>
<text x="408.10" y="388.42" font-size="8.6" fill="#767676" text-anchor="end" stroke="#767676" stroke-width="0.3" textLength="8.61" lengthAdjust="spacingAndGlyphs">40</text>
<text x="408.10" y="374.88" font-size="8.6" fill="#767676" text-anchor="end" stroke="#767676" stroke-width="0.3" textLength="8.61" lengthAdjust="spacingAndGlyphs">60</text>
<text x="408.10" y="361.34" font-size="8.6" fill="#767676" text-anchor="end" stroke="#767676" stroke-width="0.3" textLength="8.61" lengthAdjust="spacingAndGlyphs">80</text>
<text x="408.10" y="347.80" font-size="8.6" fill="#767676" text-anchor="end" stroke="#767676" stroke-width="0.3" textLength="12.91" lengthAdjust="spacingAndGlyphs">100</text>
<text x="391.70" y="380.80" font-size="8.4" fill="#555555" text-anchor="middle" stroke="#555555" stroke-width="0.3" textLength="32.20" lengthAdjust="spacingAndGlyphs" transform="rotate(-90 391.70 380.80)">% CCR7+</text>
<text x="423.20" y="356.60" font-size="9.6" fill="#262626" text-anchor="start" stroke="#262626" stroke-width="0.3" textLength="18.30" lengthAdjust="spacingAndGlyphs">CD8+</text>
<text x="436.80" y="424.20" font-size="8.0" fill="#404040" text-anchor="middle" stroke="#404040" stroke-width="0.3" textLength="8.60" lengthAdjust="spacingAndGlyphs">PB</text>
<text x="466.80" y="424.20" font-size="8.0" fill="#404040" text-anchor="middle" stroke="#404040" stroke-width="0.3" textLength="18.40" lengthAdjust="spacingAndGlyphs">CAR T</text>
<line x1="435.00" y1="412.10" x2="471.90" y2="411.35" stroke="#70AD47" stroke-width="1.6"/>
<circle cx="435.00" cy="412.10" r="2.3" fill="#70AD47"/>
<circle cx="471.90" cy="411.35" r="2.3" fill="#70AD47"/>
<line x1="435.00" y1="408.24" x2="471.90" y2="410.27" stroke="#F4B183" stroke-width="1.6"/>
<circle cx="435.00" cy="408.24" r="2.3" fill="#F4B183"/>
<circle cx="471.90" cy="410.27" r="2.3" fill="#F4B183"/>
<line x1="435.00" y1="408.92" x2="471.90" y2="410.27" stroke="#ED7D31" stroke-width="1.6"/>
<circle cx="435.00" cy="408.92" r="2.3" fill="#ED7D31"/>
<circle cx="471.90" cy="410.27" r="2.3" fill="#ED7D31"/>
<line x1="435.00" y1="404.18" x2="471.90" y2="406.88" stroke="#A5A5A5" stroke-width="1.6"/>
<circle cx="435.00" cy="404.18" r="2.3" fill="#A5A5A5"/>
<circle cx="471.90" cy="406.88" r="2.3" fill="#A5A5A5"/>
<line x1="435.00" y1="401.47" x2="471.90" y2="407.56" stroke="#9DC3E6" stroke-width="1.6"/>
<circle cx="435.00" cy="401.47" r="2.3" fill="#9DC3E6"/>
<circle cx="471.90" cy="407.56" r="2.3" fill="#9DC3E6"/>
<line x1="435.00" y1="402.42" x2="471.90" y2="406.55" stroke="#5B9BD5" stroke-width="1.6"/>
<circle cx="435.00" cy="402.42" r="2.3" fill="#5B9BD5"/>
<circle cx="471.90" cy="406.55" r="2.3" fill="#5B9BD5"/>
<line x1="435.00" y1="404.18" x2="471.90" y2="399.71" stroke="#264478" stroke-width="1.6"/>
<circle cx="435.00" cy="404.18" r="2.3" fill="#264478"/>
<circle cx="471.90" cy="399.71" r="2.3" fill="#264478"/>
<line x1="435.00" y1="397.74" x2="471.90" y2="408.24" stroke="#43682B" stroke-width="1.6"/>
<circle cx="435.00" cy="397.74" r="2.3" fill="#43682B"/>
<circle cx="471.90" cy="408.24" r="2.3" fill="#43682B"/>
<line x1="435.00" y1="396.73" x2="471.90" y2="394.02" stroke="#997300" stroke-width="1.6"/>
<circle cx="435.00" cy="396.73" r="2.3" fill="#997300"/>
<circle cx="471.90" cy="394.02" r="2.3" fill="#997300"/>
<line x1="435.00" y1="391.31" x2="471.90" y2="406.55" stroke="#C55A11" stroke-width="1.6"/>
<circle cx="435.00" cy="391.31" r="2.3" fill="#C55A11"/>
<circle cx="471.90" cy="406.55" r="2.3" fill="#C55A11"/>
<rect x="300.40" y="430.90" width="74.60" height="65.10" fill="#fff" stroke="#808080" stroke-width="1.25"/>
<text x="291.90" y="499.20" font-size="8.6" fill="#767676" text-anchor="end" stroke="#767676" stroke-width="0.3" textLength="4.30" lengthAdjust="spacingAndGlyphs">0</text>
<text x="291.90" y="486.18" font-size="8.6" fill="#767676" text-anchor="end" stroke="#767676" stroke-width="0.3" textLength="8.61" lengthAdjust="spacingAndGlyphs">20</text>
<text x="291.90" y="473.16" font-size="8.6" fill="#767676" text-anchor="end" stroke="#767676" stroke-width="0.3" textLength="8.61" lengthAdjust="spacingAndGlyphs">40</text>
<text x="291.90" y="460.14" font-size="8.6" fill="#767676" text-anchor="end" stroke="#767676" stroke-width="0.3" textLength="8.61" lengthAdjust="spacingAndGlyphs">60</text>
<text x="291.90" y="447.12" font-size="8.6" fill="#767676" text-anchor="end" stroke="#767676" stroke-width="0.3" textLength="8.61" lengthAdjust="spacingAndGlyphs">80</text>
<text x="291.90" y="434.10" font-size="8.6" fill="#767676" text-anchor="end" stroke="#767676" stroke-width="0.3" textLength="12.91" lengthAdjust="spacingAndGlyphs">100</text>
<text x="277.40" y="464.50" font-size="8.4" fill="#555555" text-anchor="middle" stroke="#555555" stroke-width="0.3" textLength="30.10" lengthAdjust="spacingAndGlyphs" transform="rotate(-90 277.40 464.50)">% CCR7+</text>
<text x="304.60" y="439.00" font-size="9.6" fill="#262626" text-anchor="start" stroke="#262626" stroke-width="0.3" textLength="18.60" lengthAdjust="spacingAndGlyphs">CD4+</text>
<text x="317.20" y="507.10" font-size="8.0" fill="#404040" text-anchor="middle" stroke="#404040" stroke-width="0.3" textLength="8.60" lengthAdjust="spacingAndGlyphs">PB</text>
<text x="347.70" y="507.10" font-size="8.0" fill="#404040" text-anchor="middle" stroke="#404040" stroke-width="0.3" textLength="18.40" lengthAdjust="spacingAndGlyphs">CAR T</text>
<line x1="319.20" y1="496.00" x2="356.40" y2="496.00" stroke="#FFCD33" stroke-width="1.6"/>
<circle cx="319.20" cy="496.00" r="2.3" fill="#FFCD33"/>
<circle cx="356.40" cy="496.00" r="2.3" fill="#FFCD33"/>
<line x1="319.20" y1="494.70" x2="356.40" y2="495.02" stroke="#ED7D31" stroke-width="1.6"/>
<circle cx="319.20" cy="494.70" r="2.3" fill="#ED7D31"/>
<circle cx="356.40" cy="495.02" r="2.3" fill="#ED7D31"/>
<line x1="319.20" y1="488.84" x2="356.40" y2="493.40" stroke="#4472C4" stroke-width="1.6"/>
<circle cx="319.20" cy="488.84" r="2.3" fill="#4472C4"/>
<circle cx="356.40" cy="493.40" r="2.3" fill="#4472C4"/>
<line x1="319.20" y1="486.89" x2="356.40" y2="491.44" stroke="#FFCD33" stroke-width="1.6"/>
<circle cx="319.20" cy="486.89" r="2.3" fill="#FFCD33"/>
<circle cx="356.40" cy="491.44" r="2.3" fill="#FFCD33"/>
<line x1="319.20" y1="484.93" x2="356.40" y2="488.19" stroke="#43682B" stroke-width="1.6"/>
<circle cx="319.20" cy="484.93" r="2.3" fill="#43682B"/>
<circle cx="356.40" cy="488.19" r="2.3" fill="#43682B"/>
<line x1="319.20" y1="484.61" x2="356.40" y2="489.49" stroke="#70AD47" stroke-width="1.6"/>
<circle cx="319.20" cy="484.61" r="2.3" fill="#70AD47"/>
<circle cx="356.40" cy="489.49" r="2.3" fill="#70AD47"/>
<line x1="319.20" y1="482.98" x2="356.40" y2="484.28" stroke="#D0D0D0" stroke-width="1.6"/>
<circle cx="319.20" cy="482.98" r="2.3" fill="#D0D0D0"/>
<circle cx="356.40" cy="484.28" r="2.3" fill="#D0D0D0"/>
<line x1="319.20" y1="481.68" x2="356.40" y2="475.82" stroke="#7CAFDD" stroke-width="1.6"/>
<circle cx="319.20" cy="481.68" r="2.3" fill="#7CAFDD"/>
<circle cx="356.40" cy="475.82" r="2.3" fill="#7CAFDD"/>
<line x1="319.20" y1="478.42" x2="356.40" y2="489.49" stroke="#F4B183" stroke-width="1.6"/>
<circle cx="319.20" cy="478.42" r="2.3" fill="#F4B183"/>
<circle cx="356.40" cy="489.49" r="2.3" fill="#F4B183"/>
<line x1="319.20" y1="475.49" x2="356.40" y2="484.28" stroke="#FFC000" stroke-width="1.6"/>
<circle cx="319.20" cy="475.49" r="2.3" fill="#FFC000"/>
<circle cx="356.40" cy="484.28" r="2.3" fill="#FFC000"/>
<line x1="319.20" y1="465.40" x2="356.40" y2="480.38" stroke="#F1975A" stroke-width="1.6"/>
<circle cx="319.20" cy="465.40" r="2.3" fill="#F1975A"/>
<circle cx="356.40" cy="480.38" r="2.3" fill="#F1975A"/>
<line x1="319.20" y1="464.10" x2="356.40" y2="482.33" stroke="#9DC3E6" stroke-width="1.6"/>
<circle cx="319.20" cy="464.10" r="2.3" fill="#9DC3E6"/>
<circle cx="356.40" cy="482.33" r="2.3" fill="#9DC3E6"/>
<line x1="319.20" y1="465.40" x2="356.40" y2="473.87" stroke="#264478" stroke-width="1.6"/>
<circle cx="319.20" cy="465.40" r="2.3" fill="#264478"/>
<circle cx="356.40" cy="473.87" r="2.3" fill="#264478"/>
<line x1="319.20" y1="462.15" x2="356.40" y2="471.91" stroke="#70AD47" stroke-width="1.6"/>
<circle cx="319.20" cy="462.15" r="2.3" fill="#70AD47"/>
<circle cx="356.40" cy="471.91" r="2.3" fill="#70AD47"/>
<line x1="319.20" y1="460.19" x2="356.40" y2="473.87" stroke="#A5A5A5" stroke-width="1.6"/>
<circle cx="319.20" cy="460.19" r="2.3" fill="#A5A5A5"/>
<circle cx="356.40" cy="473.87" r="2.3" fill="#A5A5A5"/>
<line x1="319.20" y1="458.24" x2="356.40" y2="477.12" stroke="#4472C4" stroke-width="1.6"/>
<circle cx="319.20" cy="458.24" r="2.3" fill="#4472C4"/>
<circle cx="356.40" cy="477.12" r="2.3" fill="#4472C4"/>
<line x1="319.20" y1="454.99" x2="356.40" y2="484.28" stroke="#ED7D31" stroke-width="1.6"/>
<circle cx="319.20" cy="454.99" r="2.3" fill="#ED7D31"/>
<circle cx="356.40" cy="484.28" r="2.3" fill="#ED7D31"/>
<line x1="319.20" y1="447.83" x2="356.40" y2="470.61" stroke="#255E91" stroke-width="1.6"/>
<circle cx="319.20" cy="447.83" r="2.3" fill="#255E91"/>
<circle cx="356.40" cy="470.61" r="2.3" fill="#255E91"/>
<line x1="319.20" y1="445.55" x2="356.40" y2="466.70" stroke="#997300" stroke-width="1.6"/>
<circle cx="319.20" cy="445.55" r="2.3" fill="#997300"/>
<circle cx="356.40" cy="466.70" r="2.3" fill="#997300"/>
<line x1="319.20" y1="442.62" x2="356.40" y2="460.19" stroke="#43682B" stroke-width="1.6"/>
<circle cx="319.20" cy="442.62" r="2.3" fill="#43682B"/>
<circle cx="356.40" cy="460.19" r="2.3" fill="#43682B"/>
<rect x="417.70" y="430.50" width="74.80" height="64.90" fill="#fff" stroke="#808080" stroke-width="1.25"/>
<text x="410.00" y="498.60" font-size="8.6" fill="#767676" text-anchor="end" stroke="#767676" stroke-width="0.3" textLength="4.30" lengthAdjust="spacingAndGlyphs">0</text>
<text x="410.00" y="485.62" font-size="8.6" fill="#767676" text-anchor="end" stroke="#767676" stroke-width="0.3" textLength="8.61" lengthAdjust="spacingAndGlyphs">20</text>
<text x="410.00" y="472.64" font-size="8.6" fill="#767676" text-anchor="end" stroke="#767676" stroke-width="0.3" textLength="8.61" lengthAdjust="spacingAndGlyphs">40</text>
<text x="410.00" y="459.66" font-size="8.6" fill="#767676" text-anchor="end" stroke="#767676" stroke-width="0.3" textLength="8.61" lengthAdjust="spacingAndGlyphs">60</text>
<text x="410.00" y="446.68" font-size="8.6" fill="#767676" text-anchor="end" stroke="#767676" stroke-width="0.3" textLength="8.61" lengthAdjust="spacingAndGlyphs">80</text>
<text x="410.00" y="433.70" font-size="8.6" fill="#767676" text-anchor="end" stroke="#767676" stroke-width="0.3" textLength="12.91" lengthAdjust="spacingAndGlyphs">100</text>
<text x="394.40" y="461.30" font-size="8.4" fill="#555555" text-anchor="middle" stroke="#555555" stroke-width="0.3" textLength="32.60" lengthAdjust="spacingAndGlyphs" transform="rotate(-90 394.40 461.30)">% CCR7+</text>
<text x="422.40" y="438.40" font-size="9.6" fill="#262626" text-anchor="start" stroke="#262626" stroke-width="0.3" textLength="19.90" lengthAdjust="spacingAndGlyphs">CD4+</text>
<text x="436.00" y="506.50" font-size="8.0" fill="#404040" text-anchor="middle" stroke="#404040" stroke-width="0.3" textLength="8.60" lengthAdjust="spacingAndGlyphs">PB</text>
<text x="466.80" y="506.50" font-size="8.0" fill="#404040" text-anchor="middle" stroke="#404040" stroke-width="0.3" textLength="18.40" lengthAdjust="spacingAndGlyphs">CAR T</text>
<line x1="436.70" y1="494.75" x2="473.80" y2="494.75" stroke="#ED7D31" stroke-width="1.6"/>
<circle cx="436.70" cy="494.75" r="2.3" fill="#ED7D31"/>
<circle cx="473.80" cy="494.75" r="2.3" fill="#ED7D31"/>
<line x1="436.70" y1="493.45" x2="473.80" y2="494.75" stroke="#FFC000" stroke-width="1.6"/>
<circle cx="436.70" cy="493.45" r="2.3" fill="#FFC000"/>
<circle cx="473.80" cy="494.75" r="2.3" fill="#FFC000"/>
<line x1="436.70" y1="485.66" x2="473.80" y2="494.10" stroke="#43682B" stroke-width="1.6"/>
<circle cx="436.70" cy="485.66" r="2.3" fill="#43682B"/>
<circle cx="473.80" cy="494.10" r="2.3" fill="#43682B"/>
<line x1="436.70" y1="485.02" x2="473.80" y2="493.45" stroke="#70AD47" stroke-width="1.6"/>
<circle cx="436.70" cy="485.02" r="2.3" fill="#70AD47"/>
<circle cx="473.80" cy="493.45" r="2.3" fill="#70AD47"/>
<line x1="436.70" y1="481.77" x2="473.80" y2="485.66" stroke="#264478" stroke-width="1.6"/>
<circle cx="436.70" cy="481.77" r="2.3" fill="#264478"/>
<circle cx="473.80" cy="485.66" r="2.3" fill="#264478"/>
<line x1="436.70" y1="475.28" x2="473.80" y2="492.15" stroke="#4472C4" stroke-width="1.6"/>
<circle cx="436.70" cy="475.28" r="2.3" fill="#4472C4"/>
<circle cx="473.80" cy="492.15" r="2.3" fill="#4472C4"/>
<line x1="436.70" y1="473.33" x2="473.80" y2="482.42" stroke="#698ED0" stroke-width="1.6"/>
<circle cx="436.70" cy="473.33" r="2.3" fill="#698ED0"/>
<circle cx="473.80" cy="482.42" r="2.3" fill="#698ED0"/>
<line x1="436.70" y1="469.44" x2="473.80" y2="490.21" stroke="#C55A11" stroke-width="1.6"/>
<circle cx="436.70" cy="469.44" r="2.3" fill="#C55A11"/>
<circle cx="473.80" cy="490.21" r="2.3" fill="#C55A11"/>
<line x1="436.70" y1="463.60" x2="473.80" y2="483.72" stroke="#636363" stroke-width="1.6"/>
<circle cx="436.70" cy="463.60" r="2.3" fill="#636363"/>
<circle cx="473.80" cy="483.72" r="2.3" fill="#636363"/>
<line x1="436.70" y1="457.11" x2="473.80" y2="486.96" stroke="#5B9BD5" stroke-width="1.6"/>
<circle cx="436.70" cy="457.11" r="2.3" fill="#5B9BD5"/>
<circle cx="473.80" cy="486.96" r="2.3" fill="#5B9BD5"/>
<line x1="436.70" y1="458.73" x2="473.80" y2="477.23" stroke="#997300" stroke-width="1.6"/>
<circle cx="436.70" cy="458.73" r="2.3" fill="#997300"/>
<circle cx="473.80" cy="477.23" r="2.3" fill="#997300"/>
</g></svg>
</body></html>
